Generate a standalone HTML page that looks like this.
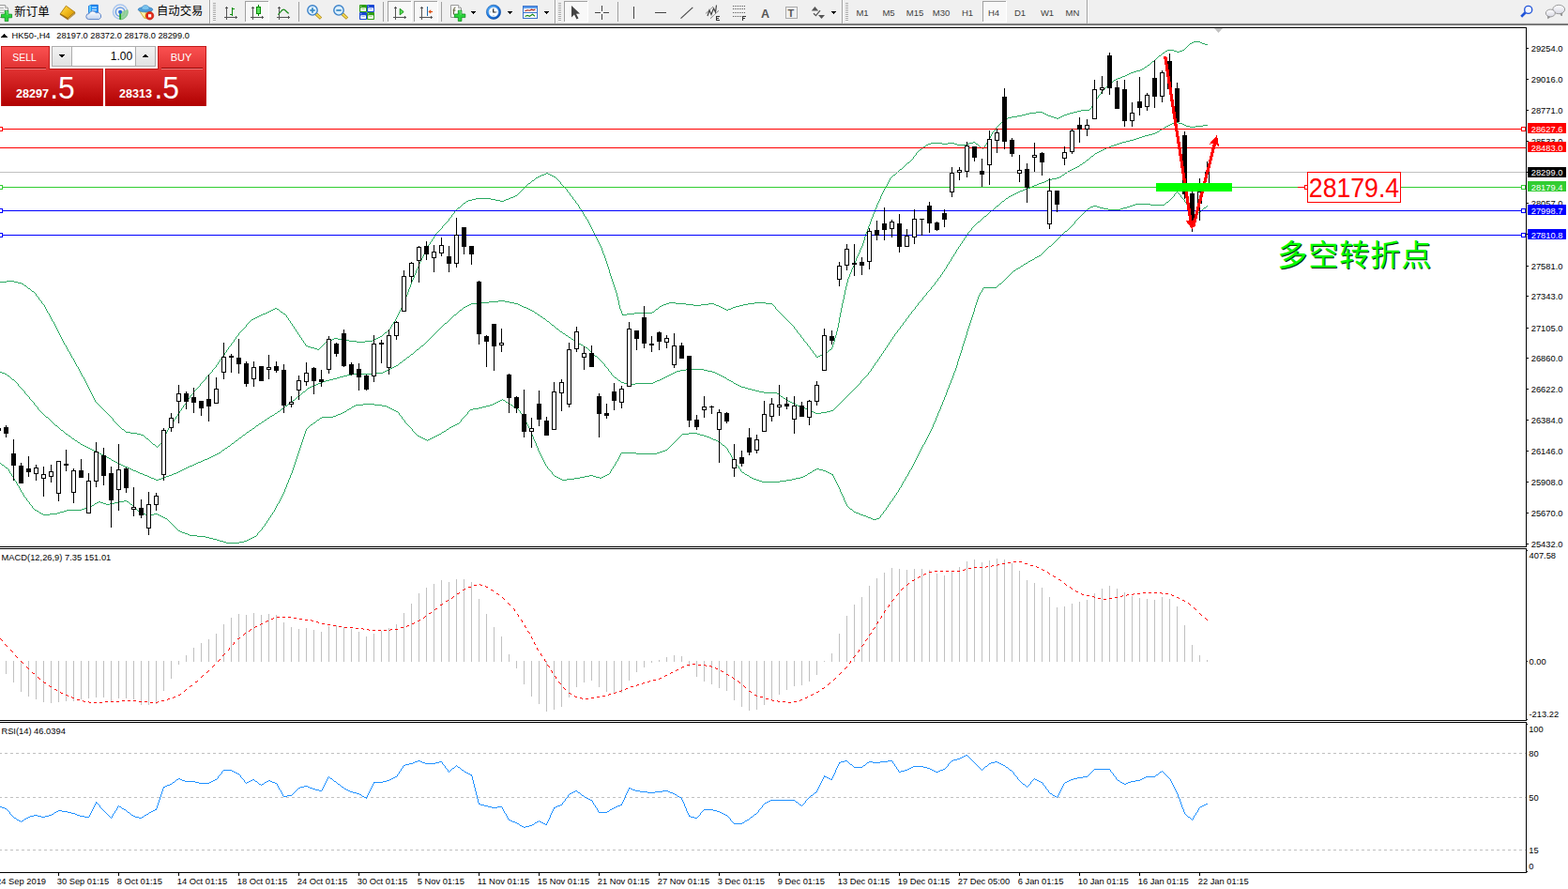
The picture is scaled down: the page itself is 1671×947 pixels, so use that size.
<!DOCTYPE html>
<html><head><meta charset="utf-8"><title>HK50 H4</title>
<style>
html,body{margin:0;padding:0;background:#fff;overflow:hidden}
body{width:1671px;height:947px;position:relative;font-family:"Liberation Sans",sans-serif}
svg{position:absolute;left:0;top:0;display:block}
svg text{font-family:"Liberation Sans",sans-serif}
svg text.cjk{font-family:"Liberation Sans","Noto Sans CJK SC",sans-serif}
.crisp{shape-rendering:crispEdges}
</style></head><body>
<svg width="1671" height="947" viewBox="0 0 1671 947">
<rect width="1671" height="947" fill="#fff"/>
<g class="crisp">
<path d="M1272 44h7v1h-7zM1270 45h2v1h-2zM1279 45h2v1h-2zM1268 46h2v1h-2zM1281 46h3v1h-3zM1284 47h3v1h-3zM1244 53h7v1h-7zM1260 53h2v1h-2zM1242 54h2v1h-2zM1251 54h3v1h-3zM1257 54h3v1h-3zM1254 55h3v1h-3zM1239 56h2v1h-2zM1235 59h2v1h-2zM1228 65h2v1h-2zM1223 69h2v1h-2zM1220 71h2v1h-2zM1217 73h2v1h-2zM1215 74h2v1h-2zM1211 75h4v1h-4zM1208 76h3v1h-3zM1205 77h3v1h-3zM1203 78h2v1h-2zM1201 79h2v1h-2zM1199 80h2v1h-2zM1196 81h3v1h-3zM1194 82h2v1h-2zM1191 83h3v1h-3zM1189 84h2v1h-2zM1187 85h2v1h-2zM1183 88h2v1h-2zM1152 117h9v1h-9zM1148 118h4v1h-4zM1104 119h7v1h-7zM1144 119h4v1h-4zM1097 120h7v1h-7zM1111 120h2v1h-2zM1140 120h4v1h-4zM1093 121h4v1h-4zM1113 121h2v1h-2zM1137 121h3v1h-3zM1089 122h4v1h-4zM1115 122h2v1h-2zM1134 122h3v1h-3zM1084 123h5v1h-5zM1117 123h3v1h-3zM1132 123h2v1h-2zM1078 124h6v1h-6zM1120 124h3v1h-3zM1130 124h2v1h-2zM1074 125h4v1h-4zM1123 125h3v1h-3zM1128 125h2v1h-2zM1072 126h2v1h-2zM1126 126h2v1h-2zM1068 129h2v1h-2zM1037 151h2v1h-2zM992 152h12v1h-12zM1010 152h7v1h-7zM1033 152h4v1h-4zM989 153h3v1h-3zM1004 153h6v1h-6zM1017 153h3v1h-3zM1030 153h3v1h-3zM1040 153h2v1h-2zM987 154h2v1h-2zM1020 154h10v1h-10zM984 156h2v1h-2zM1045 157h2v1h-2zM980 159h2v1h-2zM967 173h2v1h-2zM959 180h2v1h-2zM582 184h2v1h-2zM580 185h2v1h-2zM584 185h2v1h-2zM577 186h3v1h-3zM586 186h2v1h-2zM952 186h2v1h-2zM575 187h2v1h-2zM588 187h2v1h-2zM573 188h2v1h-2zM590 188h2v1h-2zM571 189h2v1h-2zM567 192h2v1h-2zM563 195h2v1h-2zM549 208h2v1h-2zM547 209h2v1h-2zM544 210h3v1h-3zM507 211h16v1h-16zM542 211h2v1h-2zM503 212h4v1h-4zM523 212h5v1h-5zM539 212h3v1h-3zM499 213h4v1h-4zM528 213h5v1h-5zM537 213h2v1h-2zM497 214h2v1h-2zM533 214h4v1h-4zM494 216h2v1h-2zM488 221h2v1h-2zM7 299h8v1h-8zM0 300h7v1h-7zM15 300h4v1h-4zM19 301h4v1h-4zM23 302h2v1h-2zM26 304h2v1h-2zM30 307h2v1h-2zM34 310h2v1h-2zM713 322h7v1h-7zM804 322h12v1h-12zM710 323h3v1h-3zM720 323h11v1h-11zM755 323h6v1h-6zM797 323h7v1h-7zM816 323h7v1h-7zM707 324h3v1h-3zM731 324h8v1h-8zM747 324h8v1h-8zM761 324h2v1h-2zM792 324h5v1h-5zM705 325h2v1h-2zM739 325h8v1h-8zM763 325h3v1h-3zM788 325h4v1h-4zM703 326h2v1h-2zM766 326h2v1h-2zM784 326h4v1h-4zM768 327h2v1h-2zM781 327h3v1h-3zM293 328h2v1h-2zM770 328h2v1h-2zM779 328h2v1h-2zM291 329h2v1h-2zM295 329h2v1h-2zM699 329h2v1h-2zM772 329h2v1h-2zM776 329h3v1h-3zM289 330h2v1h-2zM774 330h2v1h-2zM287 331h2v1h-2zM285 332h2v1h-2zM299 332h2v1h-2zM695 332h2v1h-2zM283 333h2v1h-2zM676 333h19v1h-19zM280 334h3v1h-3zM302 334h2v1h-2zM668 334h8v1h-8zM278 335h2v1h-2zM663 335h5v1h-5zM276 336h2v1h-2zM274 337h2v1h-2zM272 338h2v1h-2zM270 339h2v1h-2zM268 340h2v1h-2zM410 354h2v1h-2zM405 358h2v1h-2zM403 359h2v1h-2zM356 360h4v1h-4zM401 360h2v1h-2zM354 361h2v1h-2zM360 361h6v1h-6zM399 361h2v1h-2zM351 362h3v1h-3zM366 362h6v1h-6zM397 362h2v1h-2zM349 363h2v1h-2zM372 363h8v1h-8zM389 363h8v1h-8zM347 364h2v1h-2zM380 364h9v1h-9zM326 368h2v1h-2zM328 369h3v1h-3zM331 370h4v1h-4zM335 371h3v1h-3zM338 372h2v1h-2zM884 372h2v1h-2zM880 375h2v1h-2zM878 376h2v1h-2zM876 377h2v1h-2zM874 378h2v1h-2zM872 379h2v1h-2zM870 380h2v1h-2zM130 457h2v1h-2zM134 460h5v1h-5zM139 461h7v1h-7zM146 462h4v1h-4zM150 463h3v1h-3zM156 467h2v1h-2zM163 473h2v1h-2zM25 303h1v1h-1zM28 305h1v1h-1zM29 306h1v1h-1zM32 308h1v1h-1zM33 309h1v1h-1zM36 311h1v1h-1zM37 312h1v1h-1zM38 313h1v2h-1zM39 315h1v1h-1zM40 316h1v1h-1zM41 317h1v2h-1zM42 319h1v1h-1zM43 320h1v1h-1zM44 321h1v2h-1zM45 323h1v1h-1zM46 324h1v1h-1zM47 325h1v2h-1zM48 327h1v2h-1zM49 329h1v2h-1zM50 331h1v2h-1zM51 333h1v1h-1zM52 334h1v2h-1zM53 336h1v2h-1zM54 338h1v2h-1zM55 340h1v2h-1zM56 342h1v1h-1zM57 343h1v2h-1zM58 345h1v2h-1zM59 347h1v2h-1zM60 349h1v2h-1zM61 351h1v2h-1zM62 353h1v2h-1zM63 355h1v2h-1zM64 357h1v2h-1zM65 359h1v2h-1zM66 361h1v2h-1zM67 363h1v2h-1zM68 365h1v2h-1zM69 367h1v1h-1zM70 368h1v2h-1zM71 370h1v2h-1zM72 372h1v2h-1zM73 374h1v1h-1zM74 375h1v2h-1zM75 377h1v2h-1zM76 379h1v2h-1zM77 381h1v1h-1zM78 382h1v2h-1zM79 384h1v2h-1zM80 386h1v2h-1zM81 388h1v2h-1zM82 390h1v1h-1zM83 391h1v2h-1zM84 393h1v2h-1zM85 395h1v2h-1zM86 397h1v2h-1zM87 399h1v2h-1zM88 401h1v1h-1zM89 402h1v2h-1zM90 404h1v2h-1zM91 406h1v2h-1zM92 408h1v2h-1zM93 410h1v2h-1zM94 412h1v2h-1zM95 414h1v2h-1zM96 416h1v2h-1zM97 418h1v2h-1zM98 420h1v2h-1zM99 422h1v2h-1zM100 424h1v2h-1zM101 426h1v2h-1zM102 428h1v1h-1zM103 429h1v1h-1zM104 430h1v1h-1zM105 431h1v1h-1zM106 432h1v1h-1zM107 433h1v1h-1zM108 434h1v1h-1zM109 435h1v1h-1zM110 436h1v1h-1zM111 437h1v1h-1zM112 438h1v1h-1zM113 439h1v1h-1zM114 440h1v1h-1zM115 441h1v1h-1zM116 442h1v1h-1zM117 443h1v1h-1zM118 444h1v1h-1zM119 445h1v1h-1zM120 446h1v2h-1zM121 448h1v1h-1zM122 449h1v1h-1zM123 450h1v1h-1zM124 451h1v1h-1zM125 452h1v1h-1zM126 453h1v1h-1zM127 454h1v1h-1zM128 455h1v1h-1zM129 456h1v1h-1zM132 458h1v1h-1zM133 459h1v1h-1zM153 464h1v1h-1zM154 465h1v1h-1zM155 466h1v1h-1zM158 468h1v1h-1zM159 469h1v1h-1zM160 470h1v1h-1zM161 471h1v1h-1zM162 472h1v1h-1zM165 474h1v1h-1zM166 475h1v1h-1zM167 476h1v1h-1zM168 475h1v1h-1zM169 474h1v1h-1zM170 473h1v1h-1zM171 472h1v1h-1zM172 471h1v1h-1zM173 469h1v2h-1zM174 467h1v2h-1zM175 465h1v2h-1zM176 462h1v3h-1zM177 460h1v2h-1zM178 458h1v2h-1zM179 456h1v2h-1zM180 455h1v1h-1zM181 453h1v2h-1zM182 452h1v1h-1zM183 450h1v2h-1zM184 449h1v1h-1zM185 447h1v2h-1zM186 446h1v1h-1zM187 444h1v2h-1zM188 443h1v1h-1zM189 441h1v2h-1zM190 440h1v1h-1zM191 438h1v2h-1zM192 437h1v1h-1zM193 435h1v2h-1zM194 434h1v1h-1zM195 432h1v2h-1zM196 431h1v1h-1zM197 430h1v1h-1zM198 428h1v2h-1zM199 427h1v1h-1zM200 425h1v2h-1zM201 424h1v1h-1zM202 422h1v2h-1zM203 421h1v1h-1zM204 420h1v1h-1zM205 419h1v1h-1zM206 417h1v2h-1zM207 416h1v1h-1zM208 415h1v1h-1zM209 414h1v1h-1zM210 413h1v1h-1zM211 412h1v1h-1zM212 411h1v1h-1zM213 409h1v2h-1zM214 408h1v1h-1zM215 407h1v1h-1zM216 406h1v1h-1zM217 405h1v1h-1zM218 404h1v1h-1zM219 402h1v2h-1zM220 401h1v1h-1zM221 400h1v1h-1zM222 399h1v1h-1zM223 398h1v1h-1zM224 397h1v1h-1zM225 396h1v1h-1zM226 394h1v2h-1zM227 393h1v1h-1zM228 392h1v1h-1zM229 391h1v1h-1zM230 389h1v2h-1zM231 388h1v1h-1zM232 386h1v2h-1zM233 385h1v1h-1zM234 383h1v2h-1zM235 382h1v1h-1zM236 381h1v1h-1zM237 379h1v2h-1zM238 378h1v1h-1zM239 376h1v2h-1zM240 375h1v1h-1zM241 373h1v2h-1zM242 372h1v1h-1zM243 370h1v2h-1zM244 369h1v1h-1zM245 368h1v1h-1zM246 366h1v2h-1zM247 365h1v1h-1zM248 364h1v1h-1zM249 362h1v2h-1zM250 361h1v1h-1zM251 359h1v2h-1zM252 358h1v1h-1zM253 357h1v1h-1zM254 355h1v2h-1zM255 354h1v1h-1zM256 353h1v1h-1zM257 352h1v1h-1zM258 351h1v1h-1zM259 350h1v1h-1zM260 349h1v1h-1zM261 348h1v1h-1zM262 346h1v2h-1zM263 345h1v1h-1zM264 344h1v1h-1zM265 343h1v1h-1zM266 342h1v1h-1zM267 341h1v1h-1zM297 330h1v1h-1zM298 331h1v1h-1zM301 333h1v1h-1zM304 335h1v1h-1zM305 336h1v2h-1zM306 338h1v1h-1zM307 339h1v2h-1zM308 341h1v1h-1zM309 342h1v2h-1zM310 344h1v1h-1zM311 345h1v2h-1zM312 347h1v1h-1zM313 348h1v2h-1zM314 350h1v1h-1zM315 351h1v2h-1zM316 353h1v1h-1zM317 354h1v2h-1zM318 356h1v1h-1zM319 357h1v2h-1zM320 359h1v1h-1zM321 360h1v2h-1zM322 362h1v1h-1zM323 363h1v2h-1zM324 365h1v1h-1zM325 366h1v2h-1zM340 371h1v1h-1zM341 370h1v1h-1zM342 369h1v1h-1zM343 368h1v1h-1zM344 367h1v1h-1zM345 366h1v1h-1zM346 365h1v1h-1zM407 357h1v1h-1zM408 356h1v1h-1zM409 355h1v1h-1zM412 353h1v1h-1zM413 352h1v1h-1zM414 351h1v1h-1zM415 350h1v1h-1zM416 348h1v2h-1zM417 346h1v2h-1zM418 345h1v1h-1zM419 343h1v2h-1zM420 342h1v1h-1zM421 340h1v2h-1zM422 338h1v2h-1zM423 336h1v2h-1zM424 334h1v2h-1zM425 332h1v2h-1zM426 330h1v2h-1zM427 328h1v2h-1zM428 326h1v2h-1zM429 324h1v2h-1zM430 322h1v2h-1zM431 319h1v3h-1zM432 316h1v3h-1zM433 314h1v2h-1zM434 311h1v3h-1zM435 308h1v3h-1zM436 306h1v2h-1zM437 303h1v3h-1zM438 300h1v3h-1zM439 298h1v2h-1zM440 296h1v2h-1zM441 293h1v3h-1zM442 291h1v2h-1zM443 288h1v3h-1zM444 286h1v2h-1zM445 284h1v2h-1zM446 281h1v3h-1zM447 279h1v2h-1zM448 277h1v2h-1zM449 275h1v2h-1zM450 273h1v2h-1zM451 271h1v2h-1zM452 269h1v2h-1zM453 267h1v2h-1zM454 265h1v2h-1zM455 263h1v2h-1zM456 261h1v2h-1zM457 260h1v1h-1zM458 258h1v2h-1zM459 257h1v1h-1zM460 255h1v2h-1zM461 254h1v1h-1zM462 252h1v2h-1zM463 251h1v1h-1zM464 249h1v2h-1zM465 248h1v1h-1zM466 247h1v1h-1zM467 246h1v1h-1zM468 245h1v1h-1zM469 244h1v1h-1zM470 243h1v1h-1zM471 241h1v2h-1zM472 240h1v1h-1zM473 239h1v1h-1zM474 238h1v1h-1zM475 237h1v1h-1zM476 236h1v1h-1zM477 235h1v1h-1zM478 233h1v2h-1zM479 232h1v1h-1zM480 231h1v1h-1zM481 229h1v2h-1zM482 228h1v1h-1zM483 227h1v1h-1zM484 225h1v2h-1zM485 224h1v1h-1zM486 223h1v1h-1zM487 222h1v1h-1zM490 220h1v1h-1zM491 219h1v1h-1zM492 218h1v1h-1zM493 217h1v1h-1zM496 215h1v1h-1zM551 207h1v1h-1zM552 206h1v1h-1zM553 205h1v1h-1zM554 204h1v1h-1zM555 203h1v1h-1zM556 202h1v1h-1zM557 201h1v1h-1zM558 200h1v1h-1zM559 199h1v1h-1zM560 198h1v1h-1zM561 197h1v1h-1zM562 196h1v1h-1zM565 194h1v1h-1zM566 193h1v1h-1zM569 191h1v1h-1zM570 190h1v1h-1zM592 189h1v1h-1zM593 190h1v1h-1zM594 191h1v1h-1zM595 192h1v1h-1zM596 193h1v1h-1zM597 194h1v2h-1zM598 196h1v1h-1zM599 197h1v1h-1zM600 198h1v1h-1zM601 199h1v1h-1zM602 200h1v1h-1zM603 201h1v1h-1zM604 202h1v2h-1zM605 204h1v1h-1zM606 205h1v1h-1zM607 206h1v2h-1zM608 208h1v1h-1zM609 209h1v1h-1zM610 210h1v2h-1zM611 212h1v1h-1zM612 213h1v1h-1zM613 214h1v2h-1zM614 216h1v1h-1zM615 217h1v1h-1zM616 218h1v2h-1zM617 220h1v2h-1zM618 222h1v1h-1zM619 223h1v2h-1zM620 225h1v1h-1zM621 226h1v2h-1zM622 228h1v2h-1zM623 230h1v1h-1zM624 231h1v2h-1zM625 233h1v1h-1zM626 234h1v2h-1zM627 236h1v2h-1zM628 238h1v2h-1zM629 240h1v2h-1zM630 242h1v2h-1zM631 244h1v2h-1zM632 246h1v2h-1zM633 248h1v2h-1zM634 250h1v2h-1zM635 252h1v2h-1zM636 254h1v2h-1zM637 256h1v2h-1zM638 258h1v2h-1zM639 260h1v2h-1zM640 262h1v2h-1zM641 264h1v3h-1zM642 267h1v3h-1zM643 270h1v2h-1zM644 272h1v3h-1zM645 275h1v3h-1zM646 278h1v3h-1zM647 281h1v3h-1zM648 284h1v3h-1zM649 287h1v4h-1zM650 291h1v3h-1zM651 294h1v3h-1zM652 297h1v3h-1zM653 300h1v3h-1zM654 303h1v3h-1zM655 306h1v3h-1zM656 309h1v3h-1zM657 312h1v4h-1zM658 316h1v4h-1zM659 320h1v5h-1zM660 325h1v4h-1zM661 329h1v2h-1zM662 331h1v3h-1zM663 334h1v1h-1zM697 331h1v1h-1zM698 330h1v1h-1zM701 328h1v1h-1zM702 327h1v1h-1zM823 324h1v1h-1zM824 325h1v1h-1zM825 326h1v1h-1zM826 327h1v2h-1zM827 329h1v1h-1zM828 330h1v1h-1zM829 331h1v1h-1zM830 332h1v1h-1zM831 333h1v1h-1zM832 334h1v1h-1zM833 335h1v1h-1zM834 336h1v1h-1zM835 337h1v1h-1zM836 338h1v1h-1zM837 339h1v1h-1zM838 340h1v1h-1zM839 341h1v1h-1zM840 342h1v1h-1zM841 343h1v1h-1zM842 344h1v1h-1zM843 345h1v1h-1zM844 346h1v1h-1zM845 347h1v1h-1zM846 348h1v2h-1zM847 350h1v1h-1zM848 351h1v1h-1zM849 352h1v2h-1zM850 354h1v1h-1zM851 355h1v1h-1zM852 356h1v1h-1zM853 357h1v2h-1zM854 359h1v1h-1zM855 360h1v1h-1zM856 361h1v2h-1zM857 363h1v1h-1zM858 364h1v1h-1zM859 365h1v1h-1zM860 366h1v2h-1zM861 368h1v1h-1zM862 369h1v1h-1zM863 370h1v2h-1zM864 372h1v1h-1zM865 373h1v1h-1zM866 374h1v2h-1zM867 376h1v1h-1zM868 377h1v1h-1zM869 378h1v2h-1zM882 374h1v1h-1zM883 373h1v1h-1zM886 370h1v2h-1zM887 367h1v3h-1zM888 364h1v3h-1zM889 360h1v4h-1zM890 357h1v3h-1zM891 353h1v4h-1zM892 349h1v4h-1zM893 344h1v5h-1zM894 338h1v6h-1zM895 333h1v5h-1zM896 328h1v5h-1zM897 323h1v5h-1zM898 319h1v4h-1zM899 314h1v5h-1zM900 309h1v5h-1zM901 305h1v4h-1zM902 301h1v4h-1zM903 297h1v4h-1zM904 295h1v2h-1zM905 292h1v3h-1zM906 290h1v2h-1zM907 287h1v3h-1zM908 285h1v2h-1zM909 283h1v2h-1zM910 280h1v3h-1zM911 278h1v2h-1zM912 275h1v3h-1zM913 273h1v2h-1zM914 271h1v2h-1zM915 269h1v2h-1zM916 266h1v3h-1zM917 264h1v2h-1zM918 262h1v2h-1zM919 259h1v3h-1zM920 256h1v3h-1zM921 252h1v4h-1zM922 249h1v3h-1zM923 247h1v2h-1zM924 244h1v3h-1zM925 241h1v3h-1zM926 239h1v2h-1zM927 236h1v3h-1zM928 233h1v3h-1zM929 231h1v2h-1zM930 228h1v3h-1zM931 226h1v2h-1zM932 223h1v3h-1zM933 221h1v2h-1zM934 218h1v3h-1zM935 216h1v2h-1zM936 214h1v2h-1zM937 212h1v2h-1zM938 209h1v3h-1zM939 207h1v2h-1zM940 205h1v2h-1zM941 203h1v2h-1zM942 201h1v2h-1zM943 199h1v2h-1zM944 198h1v1h-1zM945 196h1v2h-1zM946 194h1v2h-1zM947 192h1v2h-1zM948 190h1v2h-1zM949 189h1v1h-1zM950 188h1v1h-1zM951 187h1v1h-1zM954 185h1v1h-1zM955 184h1v1h-1zM956 183h1v1h-1zM957 182h1v1h-1zM958 181h1v1h-1zM961 179h1v1h-1zM962 178h1v1h-1zM963 177h1v1h-1zM964 176h1v1h-1zM965 175h1v1h-1zM966 174h1v1h-1zM969 172h1v1h-1zM970 171h1v1h-1zM971 170h1v1h-1zM972 169h1v1h-1zM973 167h1v2h-1zM974 166h1v1h-1zM975 165h1v1h-1zM976 163h1v2h-1zM977 162h1v1h-1zM978 161h1v1h-1zM979 160h1v1h-1zM982 158h1v1h-1zM983 157h1v1h-1zM986 155h1v1h-1zM1039 152h1v1h-1zM1042 154h1v1h-1zM1043 155h1v1h-1zM1044 156h1v1h-1zM1047 158h1v1h-1zM1048 157h1v1h-1zM1049 155h1v2h-1zM1050 154h1v1h-1zM1051 152h1v2h-1zM1052 150h1v2h-1zM1053 148h1v2h-1zM1054 147h1v1h-1zM1055 145h1v2h-1zM1056 143h1v2h-1zM1057 141h1v2h-1zM1058 140h1v1h-1zM1059 139h1v1h-1zM1060 137h1v2h-1zM1061 136h1v1h-1zM1062 135h1v1h-1zM1063 134h1v1h-1zM1064 133h1v1h-1zM1065 132h1v1h-1zM1066 131h1v1h-1zM1067 130h1v1h-1zM1070 128h1v1h-1zM1071 127h1v1h-1zM1161 116h1v1h-1zM1162 115h1v1h-1zM1163 113h1v2h-1zM1164 112h1v1h-1zM1165 111h1v1h-1zM1166 109h1v2h-1zM1167 107h1v2h-1zM1168 105h1v2h-1zM1169 104h1v1h-1zM1170 102h1v2h-1zM1171 101h1v1h-1zM1172 100h1v1h-1zM1173 98h1v2h-1zM1174 97h1v1h-1zM1175 96h1v1h-1zM1176 95h1v1h-1zM1177 94h1v1h-1zM1178 93h1v1h-1zM1179 92h1v1h-1zM1180 91h1v1h-1zM1181 90h1v1h-1zM1182 89h1v1h-1zM1185 87h1v1h-1zM1186 86h1v1h-1zM1219 72h1v1h-1zM1222 70h1v1h-1zM1225 68h1v1h-1zM1226 67h1v1h-1zM1227 66h1v1h-1zM1230 64h1v1h-1zM1231 63h1v1h-1zM1232 62h1v1h-1zM1233 61h1v1h-1zM1234 60h1v1h-1zM1237 58h1v1h-1zM1238 57h1v1h-1zM1241 55h1v1h-1zM1262 52h1v1h-1zM1263 51h1v1h-1zM1264 50h1v1h-1zM1265 49h1v1h-1zM1266 48h1v1h-1zM1267 47h1v1h-1z" fill="#28a860"/>
<path d="M1252 130h4v1h-4zM1249 131h3v1h-3zM1256 131h4v1h-4zM1247 132h2v1h-2zM1260 132h2v1h-2zM1245 133h2v1h-2zM1262 133h2v1h-2zM1282 133h5v1h-5zM1243 134h2v1h-2zM1264 134h4v1h-4zM1274 134h8v1h-8zM1241 135h2v1h-2zM1268 135h6v1h-6zM1238 137h2v1h-2zM1236 138h2v1h-2zM1233 140h2v1h-2zM1231 141h2v1h-2zM1228 142h3v1h-3zM1224 143h4v1h-4zM1220 144h4v1h-4zM1217 145h3v1h-3zM1214 146h3v1h-3zM1211 147h3v1h-3zM1208 148h3v1h-3zM1204 149h4v1h-4zM1200 150h4v1h-4zM1196 151h4v1h-4zM1193 152h3v1h-3zM1190 153h3v1h-3zM1187 154h3v1h-3zM1184 155h3v1h-3zM1182 156h2v1h-2zM1179 157h3v1h-3zM1177 158h2v1h-2zM1175 159h2v1h-2zM1173 160h2v1h-2zM1171 161h2v1h-2zM1169 162h2v1h-2zM1167 163h2v1h-2zM1163 166h2v1h-2zM1158 170h2v1h-2zM1154 173h2v1h-2zM1151 175h2v1h-2zM1148 177h2v1h-2zM1146 178h2v1h-2zM1144 179h2v1h-2zM1142 180h2v1h-2zM1140 181h2v1h-2zM1138 182h2v1h-2zM1135 184h2v1h-2zM1132 186h2v1h-2zM1129 188h2v1h-2zM1126 189h3v1h-3zM1121 190h5v1h-5zM1117 191h4v1h-4zM1115 192h2v1h-2zM1113 193h2v1h-2zM1110 194h3v1h-3zM1107 195h3v1h-3zM1105 196h2v1h-2zM1102 197h3v1h-3zM1100 198h2v1h-2zM1098 199h2v1h-2zM1095 200h3v1h-3zM1092 201h3v1h-3zM1090 202h2v1h-2zM1087 203h3v1h-3zM1085 204h2v1h-2zM1083 205h2v1h-2zM1081 206h2v1h-2zM1079 207h2v1h-2zM1077 208h2v1h-2zM1075 209h2v1h-2zM1072 211h2v1h-2zM1068 214h2v1h-2zM1062 219h2v1h-2zM1056 224h2v1h-2zM1049 230h2v1h-2zM1042 236h2v1h-2zM531 320h7v1h-7zM521 321h10v1h-10zM538 321h5v1h-5zM510 322h11v1h-11zM543 322h5v1h-5zM502 323h8v1h-8zM548 323h4v1h-4zM500 324h2v1h-2zM552 324h2v1h-2zM498 325h2v1h-2zM554 325h2v1h-2zM496 326h2v1h-2zM556 326h2v1h-2zM494 327h2v1h-2zM558 327h3v1h-3zM561 328h2v1h-2zM563 329h2v1h-2zM490 330h2v1h-2zM565 330h2v1h-2zM567 331h2v1h-2zM570 333h2v1h-2zM484 335h2v1h-2zM573 335h2v1h-2zM576 337h2v1h-2zM579 339h2v1h-2zM583 342h2v1h-2zM474 344h2v1h-2zM588 346h2v1h-2zM593 350h2v1h-2zM597 353h2v1h-2zM600 355h2v1h-2zM603 357h2v1h-2zM606 359h2v1h-2zM609 361h2v1h-2zM612 363h2v1h-2zM614 364h2v1h-2zM617 366h2v1h-2zM619 367h2v1h-2zM449 368h2v1h-2zM622 369h2v1h-2zM624 370h2v1h-2zM444 372h2v1h-2zM438 377h2v1h-2zM634 379h2v1h-2zM434 380h2v1h-2zM430 383h2v1h-2zM426 386h2v1h-2zM422 389h2v1h-2zM420 390h2v1h-2zM418 391h2v1h-2zM416 392h2v1h-2zM414 393h2v1h-2zM731 393h19v1h-19zM412 394h2v1h-2zM725 394h6v1h-6zM750 394h4v1h-4zM410 395h2v1h-2zM721 395h4v1h-4zM754 395h5v1h-5zM0 396h2v1h-2zM408 396h2v1h-2zM719 396h2v1h-2zM759 396h3v1h-3zM2 397h3v1h-3zM399 397h9v1h-9zM717 397h2v1h-2zM762 397h2v1h-2zM5 398h2v1h-2zM374 398h25v1h-25zM715 398h2v1h-2zM764 398h2v1h-2zM370 399h4v1h-4zM713 399h2v1h-2zM766 399h2v1h-2zM8 400h2v1h-2zM366 400h4v1h-4zM711 400h2v1h-2zM768 400h2v1h-2zM362 401h4v1h-4zM709 401h2v1h-2zM770 401h2v1h-2zM359 402h3v1h-3zM655 402h2v1h-2zM707 402h2v1h-2zM772 402h2v1h-2zM355 403h4v1h-4zM705 403h2v1h-2zM13 404h2v1h-2zM351 404h4v1h-4zM703 404h2v1h-2zM775 404h2v1h-2zM347 405h4v1h-4zM659 405h2v1h-2zM700 405h3v1h-3zM777 405h2v1h-2zM344 406h3v1h-3zM698 406h2v1h-2zM779 406h2v1h-2zM342 407h2v1h-2zM662 407h3v1h-3zM696 407h2v1h-2zM339 408h3v1h-3zM665 408h5v1h-5zM677 408h19v1h-19zM782 408h2v1h-2zM337 409h2v1h-2zM670 409h7v1h-7zM784 409h2v1h-2zM334 410h3v1h-3zM786 410h2v1h-2zM332 411h2v1h-2zM788 411h2v1h-2zM330 412h2v1h-2zM790 412h4v1h-4zM328 413h2v1h-2zM794 413h3v1h-3zM797 414h4v1h-4zM801 415h4v1h-4zM805 416h4v1h-4zM323 417h2v1h-2zM809 417h5v1h-5zM814 418h14v1h-14zM828 419h2v1h-2zM317 422h2v1h-2zM832 422h2v1h-2zM835 424h2v1h-2zM312 426h2v1h-2zM838 426h2v1h-2zM840 427h2v1h-2zM842 428h2v1h-2zM308 429h2v1h-2zM844 429h2v1h-2zM846 430h2v1h-2zM848 431h2v1h-2zM304 432h2v1h-2zM850 432h3v1h-3zM853 433h3v1h-3zM856 434h2v1h-2zM300 435h2v1h-2zM858 435h3v1h-3zM861 436h2v1h-2zM863 437h2v1h-2zM885 437h3v1h-3zM296 438h2v1h-2zM865 438h2v1h-2zM881 438h4v1h-4zM867 439h2v1h-2zM875 439h6v1h-6zM293 440h2v1h-2zM869 440h6v1h-6zM290 442h2v1h-2zM288 443h2v1h-2zM49 444h2v1h-2zM285 445h2v1h-2zM282 447h2v1h-2zM279 449h2v1h-2zM276 451h2v1h-2zM59 453h2v1h-2zM273 453h2v1h-2zM269 456h2v1h-2zM65 458h2v1h-2zM266 458h2v1h-2zM263 460h2v1h-2zM70 462h2v1h-2zM259 463h2v1h-2zM73 464h2v1h-2zM255 466h2v1h-2zM77 467h2v1h-2zM80 469h2v1h-2zM251 469h2v1h-2zM83 471h2v1h-2zM247 472h2v1h-2zM86 473h2v1h-2zM88 474h2v1h-2zM90 475h2v1h-2zM243 475h2v1h-2zM92 476h2v1h-2zM94 477h2v1h-2zM240 477h2v1h-2zM96 478h2v1h-2zM98 479h2v1h-2zM237 479h2v1h-2zM100 480h2v1h-2zM102 481h2v1h-2zM104 482h2v1h-2zM233 482h2v1h-2zM106 483h2v1h-2zM231 483h2v1h-2zM108 484h2v1h-2zM229 484h2v1h-2zM110 485h2v1h-2zM227 485h2v1h-2zM112 486h2v1h-2zM225 486h2v1h-2zM114 487h2v1h-2zM223 487h2v1h-2zM116 488h2v1h-2zM221 488h2v1h-2zM218 489h3v1h-3zM119 490h2v1h-2zM216 490h2v1h-2zM121 491h2v1h-2zM214 491h2v1h-2zM123 492h2v1h-2zM211 492h3v1h-3zM125 493h2v1h-2zM209 493h2v1h-2zM127 494h2v1h-2zM207 494h2v1h-2zM129 495h2v1h-2zM205 495h2v1h-2zM131 496h2v1h-2zM202 496h3v1h-3zM133 497h3v1h-3zM200 497h2v1h-2zM136 498h2v1h-2zM198 498h2v1h-2zM138 499h2v1h-2zM196 499h2v1h-2zM140 500h2v1h-2zM194 500h2v1h-2zM142 501h3v1h-3zM192 501h2v1h-2zM145 502h2v1h-2zM190 502h2v1h-2zM147 503h2v1h-2zM188 503h2v1h-2zM149 504h3v1h-3zM185 504h3v1h-3zM152 505h2v1h-2zM183 505h2v1h-2zM154 506h3v1h-3zM180 506h3v1h-3zM157 507h2v1h-2zM177 507h3v1h-3zM159 508h2v1h-2zM175 508h2v1h-2zM161 509h3v1h-3zM172 509h3v1h-3zM164 510h2v1h-2zM169 510h3v1h-3zM166 511h3v1h-3zM7 399h1v1h-1zM10 401h1v1h-1zM11 402h1v1h-1zM12 403h1v1h-1zM15 405h1v1h-1zM16 406h1v1h-1zM17 407h1v1h-1zM18 408h1v1h-1zM19 409h1v2h-1zM20 411h1v1h-1zM21 412h1v1h-1zM22 413h1v1h-1zM23 414h1v1h-1zM24 415h1v1h-1zM25 416h1v1h-1zM26 417h1v2h-1zM27 419h1v1h-1zM28 420h1v1h-1zM29 421h1v1h-1zM30 422h1v1h-1zM31 423h1v2h-1zM32 425h1v1h-1zM33 426h1v1h-1zM34 427h1v1h-1zM35 428h1v1h-1zM36 429h1v2h-1zM37 431h1v1h-1zM38 432h1v1h-1zM39 433h1v1h-1zM40 434h1v2h-1zM41 436h1v1h-1zM42 437h1v1h-1zM43 438h1v1h-1zM44 439h1v1h-1zM45 440h1v1h-1zM46 441h1v1h-1zM47 442h1v1h-1zM48 443h1v1h-1zM51 445h1v1h-1zM52 446h1v1h-1zM53 447h1v1h-1zM54 448h1v1h-1zM55 449h1v1h-1zM56 450h1v1h-1zM57 451h1v1h-1zM58 452h1v1h-1zM61 454h1v1h-1zM62 455h1v1h-1zM63 456h1v1h-1zM64 457h1v1h-1zM67 459h1v1h-1zM68 460h1v1h-1zM69 461h1v1h-1zM72 463h1v1h-1zM75 465h1v1h-1zM76 466h1v1h-1zM79 468h1v1h-1zM82 470h1v1h-1zM85 472h1v1h-1zM118 489h1v1h-1zM235 481h1v1h-1zM236 480h1v1h-1zM239 478h1v1h-1zM242 476h1v1h-1zM245 474h1v1h-1zM246 473h1v1h-1zM249 471h1v1h-1zM250 470h1v1h-1zM253 468h1v1h-1zM254 467h1v1h-1zM257 465h1v1h-1zM258 464h1v1h-1zM261 462h1v1h-1zM262 461h1v1h-1zM265 459h1v1h-1zM268 457h1v1h-1zM271 455h1v1h-1zM272 454h1v1h-1zM275 452h1v1h-1zM278 450h1v1h-1zM281 448h1v1h-1zM284 446h1v1h-1zM287 444h1v1h-1zM292 441h1v1h-1zM295 439h1v1h-1zM298 437h1v1h-1zM299 436h1v1h-1zM302 434h1v1h-1zM303 433h1v1h-1zM306 431h1v1h-1zM307 430h1v1h-1zM310 428h1v1h-1zM311 427h1v1h-1zM314 425h1v1h-1zM315 424h1v1h-1zM316 423h1v1h-1zM319 421h1v1h-1zM320 420h1v1h-1zM321 419h1v1h-1zM322 418h1v1h-1zM325 416h1v1h-1zM326 415h1v1h-1zM327 414h1v1h-1zM424 388h1v1h-1zM425 387h1v1h-1zM428 385h1v1h-1zM429 384h1v1h-1zM432 382h1v1h-1zM433 381h1v1h-1zM436 379h1v1h-1zM437 378h1v1h-1zM440 376h1v1h-1zM441 375h1v1h-1zM442 374h1v1h-1zM443 373h1v1h-1zM446 371h1v1h-1zM447 370h1v1h-1zM448 369h1v1h-1zM451 367h1v1h-1zM452 366h1v1h-1zM453 365h1v1h-1zM454 364h1v1h-1zM455 363h1v1h-1zM456 362h1v1h-1zM457 361h1v1h-1zM458 360h1v1h-1zM459 359h1v1h-1zM460 358h1v1h-1zM461 357h1v1h-1zM462 356h1v1h-1zM463 355h1v1h-1zM464 354h1v1h-1zM465 353h1v1h-1zM466 352h1v1h-1zM467 351h1v1h-1zM468 350h1v1h-1zM469 349h1v1h-1zM470 348h1v1h-1zM471 347h1v1h-1zM472 346h1v1h-1zM473 345h1v1h-1zM476 343h1v1h-1zM477 342h1v1h-1zM478 341h1v1h-1zM479 340h1v1h-1zM480 339h1v1h-1zM481 338h1v1h-1zM482 337h1v1h-1zM483 336h1v1h-1zM486 334h1v1h-1zM487 333h1v1h-1zM488 332h1v1h-1zM489 331h1v1h-1zM492 329h1v1h-1zM493 328h1v1h-1zM569 332h1v1h-1zM572 334h1v1h-1zM575 336h1v1h-1zM578 338h1v1h-1zM581 340h1v1h-1zM582 341h1v1h-1zM585 343h1v1h-1zM586 344h1v1h-1zM587 345h1v1h-1zM590 347h1v1h-1zM591 348h1v1h-1zM592 349h1v1h-1zM595 351h1v1h-1zM596 352h1v1h-1zM599 354h1v1h-1zM602 356h1v1h-1zM605 358h1v1h-1zM608 360h1v1h-1zM611 362h1v1h-1zM616 365h1v1h-1zM621 368h1v1h-1zM626 371h1v1h-1zM627 372h1v1h-1zM628 373h1v1h-1zM629 374h1v1h-1zM630 375h1v1h-1zM631 376h1v1h-1zM632 377h1v1h-1zM633 378h1v1h-1zM636 380h1v1h-1zM637 381h1v1h-1zM638 382h1v1h-1zM639 383h1v1h-1zM640 384h1v1h-1zM641 385h1v1h-1zM642 386h1v1h-1zM643 387h1v1h-1zM644 388h1v2h-1zM645 390h1v1h-1zM646 391h1v1h-1zM647 392h1v1h-1zM648 393h1v2h-1zM649 395h1v1h-1zM650 396h1v1h-1zM651 397h1v2h-1zM652 399h1v1h-1zM653 400h1v1h-1zM654 401h1v1h-1zM657 403h1v1h-1zM658 404h1v1h-1zM661 406h1v1h-1zM774 403h1v1h-1zM781 407h1v1h-1zM830 420h1v1h-1zM831 421h1v1h-1zM834 423h1v1h-1zM837 425h1v1h-1zM888 436h1v1h-1zM889 435h1v1h-1zM890 434h1v1h-1zM891 433h1v1h-1zM892 432h1v1h-1zM893 431h1v1h-1zM894 430h1v1h-1zM895 429h1v1h-1zM896 428h1v1h-1zM897 427h1v1h-1zM898 426h1v1h-1zM899 425h1v1h-1zM900 424h1v1h-1zM901 423h1v1h-1zM902 422h1v1h-1zM903 421h1v1h-1zM904 420h1v1h-1zM905 419h1v1h-1zM906 418h1v1h-1zM907 417h1v1h-1zM908 416h1v1h-1zM909 415h1v1h-1zM910 414h1v1h-1zM911 413h1v1h-1zM912 412h1v1h-1zM913 411h1v1h-1zM914 410h1v1h-1zM915 409h1v1h-1zM916 408h1v1h-1zM917 406h1v2h-1zM918 405h1v1h-1zM919 404h1v1h-1zM920 403h1v1h-1zM921 402h1v1h-1zM922 401h1v1h-1zM923 400h1v1h-1zM924 399h1v1h-1zM925 397h1v2h-1zM926 396h1v1h-1zM927 395h1v1h-1zM928 393h1v2h-1zM929 392h1v1h-1zM930 390h1v2h-1zM931 389h1v1h-1zM932 387h1v2h-1zM933 386h1v1h-1zM934 385h1v1h-1zM935 383h1v2h-1zM936 382h1v1h-1zM937 380h1v2h-1zM938 379h1v1h-1zM939 377h1v2h-1zM940 376h1v1h-1zM941 374h1v2h-1zM942 373h1v1h-1zM943 371h1v2h-1zM944 370h1v1h-1zM945 368h1v2h-1zM946 367h1v1h-1zM947 365h1v2h-1zM948 364h1v1h-1zM949 362h1v2h-1zM950 361h1v1h-1zM951 359h1v2h-1zM952 358h1v1h-1zM953 356h1v2h-1zM954 355h1v1h-1zM955 354h1v1h-1zM956 352h1v2h-1zM957 351h1v1h-1zM958 350h1v1h-1zM959 348h1v2h-1zM960 347h1v1h-1zM961 346h1v1h-1zM962 344h1v2h-1zM963 343h1v1h-1zM964 342h1v1h-1zM965 340h1v2h-1zM966 339h1v1h-1zM967 338h1v1h-1zM968 336h1v2h-1zM969 335h1v1h-1zM970 334h1v1h-1zM971 332h1v2h-1zM972 331h1v1h-1zM973 330h1v1h-1zM974 329h1v1h-1zM975 327h1v2h-1zM976 326h1v1h-1zM977 325h1v1h-1zM978 323h1v2h-1zM979 322h1v1h-1zM980 321h1v1h-1zM981 320h1v1h-1zM982 319h1v1h-1zM983 317h1v2h-1zM984 316h1v1h-1zM985 315h1v1h-1zM986 314h1v1h-1zM987 312h1v2h-1zM988 311h1v1h-1zM989 310h1v1h-1zM990 309h1v1h-1zM991 308h1v1h-1zM992 306h1v2h-1zM993 305h1v1h-1zM994 304h1v1h-1zM995 303h1v1h-1zM996 301h1v2h-1zM997 300h1v1h-1zM998 299h1v1h-1zM999 297h1v2h-1zM1000 296h1v1h-1zM1001 295h1v1h-1zM1002 293h1v2h-1zM1003 292h1v1h-1zM1004 290h1v2h-1zM1005 289h1v1h-1zM1006 287h1v2h-1zM1007 286h1v1h-1zM1008 284h1v2h-1zM1009 282h1v2h-1zM1010 281h1v1h-1zM1011 279h1v2h-1zM1012 278h1v1h-1zM1013 276h1v2h-1zM1014 274h1v2h-1zM1015 273h1v1h-1zM1016 271h1v2h-1zM1017 270h1v1h-1zM1018 268h1v2h-1zM1019 266h1v2h-1zM1020 265h1v1h-1zM1021 263h1v2h-1zM1022 262h1v1h-1zM1023 260h1v2h-1zM1024 259h1v1h-1zM1025 257h1v2h-1zM1026 256h1v1h-1zM1027 254h1v2h-1zM1028 253h1v1h-1zM1029 251h1v2h-1zM1030 250h1v1h-1zM1031 248h1v2h-1zM1032 247h1v1h-1zM1033 246h1v1h-1zM1034 245h1v1h-1zM1035 243h1v2h-1zM1036 242h1v1h-1zM1037 241h1v1h-1zM1038 240h1v1h-1zM1039 239h1v1h-1zM1040 238h1v1h-1zM1041 237h1v1h-1zM1044 235h1v1h-1zM1045 234h1v1h-1zM1046 233h1v1h-1zM1047 232h1v1h-1zM1048 231h1v1h-1zM1051 229h1v1h-1zM1052 228h1v1h-1zM1053 227h1v1h-1zM1054 226h1v1h-1zM1055 225h1v1h-1zM1058 223h1v1h-1zM1059 222h1v1h-1zM1060 221h1v1h-1zM1061 220h1v1h-1zM1064 218h1v1h-1zM1065 217h1v1h-1zM1066 216h1v1h-1zM1067 215h1v1h-1zM1070 213h1v1h-1zM1071 212h1v1h-1zM1074 210h1v1h-1zM1131 187h1v1h-1zM1134 185h1v1h-1zM1137 183h1v1h-1zM1150 176h1v1h-1zM1153 174h1v1h-1zM1156 172h1v1h-1zM1157 171h1v1h-1zM1160 169h1v1h-1zM1161 168h1v1h-1zM1162 167h1v1h-1zM1165 165h1v1h-1zM1166 164h1v1h-1zM1235 139h1v1h-1zM1240 136h1v1h-1z" fill="#28a860"/>
<path d="M1243 215h2v1h-2zM1210 217h16v1h-16zM1207 218h3v1h-3zM1226 218h15v1h-15zM1165 219h4v1h-4zM1204 219h3v1h-3zM1162 220h3v1h-3zM1169 220h3v1h-3zM1201 220h3v1h-3zM1172 221h4v1h-4zM1197 221h4v1h-4zM1283 221h2v1h-2zM1159 222h2v1h-2zM1176 222h5v1h-5zM1194 222h3v1h-3zM1181 223h13v1h-13zM1278 225h2v1h-2zM1274 228h2v1h-2zM1135 246h2v1h-2zM1118 262h2v1h-2zM1107 272h2v1h-2zM1105 273h2v1h-2zM1103 274h2v1h-2zM1100 276h2v1h-2zM1098 277h2v1h-2zM1096 278h2v1h-2zM1093 280h2v1h-2zM1091 281h2v1h-2zM1088 283h2v1h-2zM1085 285h2v1h-2zM1083 286h2v1h-2zM1080 288h2v1h-2zM1065 302h2v1h-2zM1048 306h14v1h-14zM533 426h2v1h-2zM536 426h2v1h-2zM531 427h2v1h-2zM529 428h2v1h-2zM539 428h2v1h-2zM527 429h2v1h-2zM541 429h2v1h-2zM387 430h12v1h-12zM525 430h2v1h-2zM379 431h8v1h-8zM399 431h8v1h-8zM522 431h3v1h-3zM544 431h2v1h-2zM377 432h2v1h-2zM407 432h5v1h-5zM518 432h4v1h-4zM375 433h2v1h-2zM412 433h2v1h-2zM514 433h4v1h-4zM547 433h2v1h-2zM414 434h2v1h-2zM510 434h4v1h-4zM372 435h2v1h-2zM416 435h2v1h-2zM504 435h6v1h-6zM550 435h2v1h-2zM370 436h2v1h-2zM418 436h2v1h-2zM501 436h3v1h-3zM420 437h2v1h-2zM367 438h2v1h-2zM422 438h2v1h-2zM365 439h2v1h-2zM363 440h2v1h-2zM360 441h3v1h-3zM358 442h2v1h-2zM355 443h3v1h-3zM343 444h12v1h-12zM341 445h2v1h-2zM338 447h2v1h-2zM334 450h2v1h-2zM487 451h2v1h-2zM331 452h2v1h-2zM485 452h2v1h-2zM483 453h2v1h-2zM481 454h2v1h-2zM479 455h2v1h-2zM476 457h2v1h-2zM473 459h2v1h-2zM471 460h2v1h-2zM734 461h9v1h-9zM468 462h2v1h-2zM727 462h7v1h-7zM743 462h3v1h-3zM466 463h2v1h-2zM746 463h4v1h-4zM445 464h2v1h-2zM464 464h2v1h-2zM750 464h3v1h-3zM447 465h2v1h-2zM462 465h2v1h-2zM753 465h3v1h-3zM449 466h2v1h-2zM460 466h2v1h-2zM756 466h2v1h-2zM451 467h2v1h-2zM458 467h2v1h-2zM758 467h2v1h-2zM453 468h2v1h-2zM456 468h2v1h-2zM760 468h3v1h-3zM763 469h2v1h-2zM765 470h2v1h-2zM770 474h2v1h-2zM709 479h2v1h-2zM706 480h3v1h-3zM703 481h3v1h-3zM662 482h16v1h-16zM700 482h3v1h-3zM678 483h22v1h-22zM2 495h2v1h-2zM6 498h2v1h-2zM870 499h3v1h-3zM868 500h2v1h-2zM873 500h4v1h-4zM866 501h2v1h-2zM877 501h3v1h-3zM880 502h2v1h-2zM791 503h2v1h-2zM863 503h2v1h-2zM882 503h2v1h-2zM861 504h2v1h-2zM884 504h2v1h-2zM647 505h2v1h-2zM794 505h2v1h-2zM886 505h2v1h-2zM628 506h4v1h-4zM645 506h2v1h-2zM796 506h2v1h-2zM858 506h2v1h-2zM591 507h2v1h-2zM623 507h5v1h-5zM632 507h3v1h-3zM643 507h2v1h-2zM856 507h2v1h-2zM593 508h2v1h-2zM618 508h5v1h-5zM635 508h4v1h-4zM641 508h2v1h-2zM799 508h2v1h-2zM853 508h3v1h-3zM595 509h2v1h-2zM612 509h6v1h-6zM639 509h2v1h-2zM801 509h2v1h-2zM848 509h5v1h-5zM597 510h2v1h-2zM604 510h8v1h-8zM803 510h3v1h-3zM844 510h4v1h-4zM599 511h5v1h-5zM806 511h3v1h-3zM838 511h6v1h-6zM809 512h3v1h-3zM831 512h7v1h-7zM812 513h19v1h-19zM132 533h3v1h-3zM105 534h2v1h-2zM127 534h5v1h-5zM135 534h2v1h-2zM103 535h2v1h-2zM107 535h3v1h-3zM122 535h5v1h-5zM101 536h2v1h-2zM110 536h3v1h-3zM117 536h5v1h-5zM113 537h4v1h-4zM139 537h2v1h-2zM98 538h2v1h-2zM96 539h2v1h-2zM94 540h2v1h-2zM90 541h4v1h-4zM87 542h3v1h-3zM906 542h2v1h-2zM37 543h2v1h-2zM71 543h16v1h-16zM39 544h2v1h-2zM68 544h3v1h-3zM64 545h4v1h-4zM910 545h2v1h-2zM42 546h2v1h-2zM61 546h3v1h-3zM912 546h3v1h-3zM44 547h2v1h-2zM53 547h8v1h-8zM150 547h5v1h-5zM164 547h4v1h-4zM915 547h2v1h-2zM46 548h7v1h-7zM155 548h9v1h-9zM168 548h2v1h-2zM917 548h3v1h-3zM170 549h2v1h-2zM920 549h3v1h-3zM172 550h2v1h-2zM923 550h2v1h-2zM174 551h2v1h-2zM925 551h3v1h-3zM176 552h2v1h-2zM928 552h2v1h-2zM934 552h3v1h-3zM930 553h4v1h-4zM190 565h2v1h-2zM192 566h2v1h-2zM194 567h3v1h-3zM197 568h3v1h-3zM200 569h2v1h-2zM202 570h8v1h-8zM210 571h9v1h-9zM271 571h2v1h-2zM219 572h4v1h-4zM269 572h2v1h-2zM223 573h4v1h-4zM267 573h2v1h-2zM227 574h4v1h-4zM265 574h2v1h-2zM231 575h3v1h-3zM263 575h2v1h-2zM234 576h4v1h-4zM260 576h3v1h-3zM238 577h3v1h-3zM255 577h5v1h-5zM241 578h14v1h-14zM0 493h1v1h-1zM1 494h1v1h-1zM4 496h1v1h-1zM5 497h1v1h-1zM8 499h1v1h-1zM9 500h1v2h-1zM10 502h1v2h-1zM11 504h1v1h-1zM12 505h1v2h-1zM13 507h1v1h-1zM14 508h1v2h-1zM15 510h1v2h-1zM16 512h1v1h-1zM17 513h1v2h-1zM18 515h1v2h-1zM19 517h1v1h-1zM20 518h1v2h-1zM21 520h1v2h-1zM22 522h1v2h-1zM23 524h1v1h-1zM24 525h1v2h-1zM25 527h1v2h-1zM26 529h1v1h-1zM27 530h1v1h-1zM28 531h1v2h-1zM29 533h1v1h-1zM30 534h1v1h-1zM31 535h1v2h-1zM32 537h1v1h-1zM33 538h1v1h-1zM34 539h1v2h-1zM35 541h1v1h-1zM36 542h1v1h-1zM41 545h1v1h-1zM100 537h1v1h-1zM137 535h1v1h-1zM138 536h1v1h-1zM141 538h1v1h-1zM142 539h1v1h-1zM143 540h1v1h-1zM144 541h1v1h-1zM145 542h1v1h-1zM146 543h1v1h-1zM147 544h1v1h-1zM148 545h1v1h-1zM149 546h1v1h-1zM178 553h1v1h-1zM179 554h1v1h-1zM180 555h1v1h-1zM181 556h1v1h-1zM182 557h1v1h-1zM183 558h1v1h-1zM184 559h1v1h-1zM185 560h1v1h-1zM186 561h1v1h-1zM187 562h1v1h-1zM188 563h1v1h-1zM189 564h1v1h-1zM273 570h1v1h-1zM274 568h1v2h-1zM275 567h1v1h-1zM276 566h1v1h-1zM277 565h1v1h-1zM278 564h1v1h-1zM279 562h1v2h-1zM280 561h1v1h-1zM281 560h1v1h-1zM282 558h1v2h-1zM283 557h1v1h-1zM284 555h1v2h-1zM285 554h1v1h-1zM286 552h1v2h-1zM287 551h1v1h-1zM288 549h1v2h-1zM289 548h1v1h-1zM290 546h1v2h-1zM291 545h1v1h-1zM292 543h1v2h-1zM293 541h1v2h-1zM294 539h1v2h-1zM295 537h1v2h-1zM296 536h1v1h-1zM297 534h1v2h-1zM298 532h1v2h-1zM299 530h1v2h-1zM300 528h1v2h-1zM301 526h1v2h-1zM302 524h1v2h-1zM303 521h1v3h-1zM304 519h1v2h-1zM305 516h1v3h-1zM306 514h1v2h-1zM307 511h1v3h-1zM308 509h1v2h-1zM309 506h1v3h-1zM310 504h1v2h-1zM311 501h1v3h-1zM312 498h1v3h-1zM313 495h1v3h-1zM314 492h1v3h-1zM315 489h1v3h-1zM316 486h1v3h-1zM317 483h1v3h-1zM318 480h1v3h-1zM319 477h1v3h-1zM320 474h1v3h-1zM321 471h1v3h-1zM322 468h1v3h-1zM323 465h1v3h-1zM324 462h1v3h-1zM325 459h1v3h-1zM326 457h1v2h-1zM327 456h1v1h-1zM328 455h1v1h-1zM329 454h1v1h-1zM330 453h1v1h-1zM333 451h1v1h-1zM336 449h1v1h-1zM337 448h1v1h-1zM340 446h1v1h-1zM369 437h1v1h-1zM374 434h1v1h-1zM424 439h1v1h-1zM425 440h1v2h-1zM426 442h1v1h-1zM427 443h1v1h-1zM428 444h1v2h-1zM429 446h1v1h-1zM430 447h1v1h-1zM431 448h1v2h-1zM432 450h1v1h-1zM433 451h1v1h-1zM434 452h1v1h-1zM435 453h1v1h-1zM436 454h1v1h-1zM437 455h1v1h-1zM438 456h1v1h-1zM439 457h1v2h-1zM440 459h1v1h-1zM441 460h1v1h-1zM442 461h1v1h-1zM443 462h1v1h-1zM444 463h1v1h-1zM455 469h1v1h-1zM470 461h1v1h-1zM475 458h1v1h-1zM478 456h1v1h-1zM489 450h1v1h-1zM490 449h1v1h-1zM491 447h1v2h-1zM492 446h1v1h-1zM493 445h1v1h-1zM494 444h1v1h-1zM495 443h1v1h-1zM496 442h1v1h-1zM497 441h1v1h-1zM498 439h1v2h-1zM499 438h1v1h-1zM500 437h1v1h-1zM535 425h1v1h-1zM538 427h1v1h-1zM543 430h1v1h-1zM546 432h1v1h-1zM549 434h1v1h-1zM552 436h1v1h-1zM553 437h1v1h-1zM554 438h1v2h-1zM555 440h1v1h-1zM556 441h1v1h-1zM557 442h1v2h-1zM558 444h1v2h-1zM559 446h1v2h-1zM560 448h1v2h-1zM561 450h1v2h-1zM562 452h1v2h-1zM563 454h1v2h-1zM564 456h1v2h-1zM565 458h1v2h-1zM566 460h1v3h-1zM567 463h1v2h-1zM568 465h1v3h-1zM569 468h1v2h-1zM570 470h1v2h-1zM571 472h1v3h-1zM572 475h1v2h-1zM573 477h1v3h-1zM574 480h1v2h-1zM575 482h1v2h-1zM576 484h1v2h-1zM577 486h1v2h-1zM578 488h1v2h-1zM579 490h1v2h-1zM580 492h1v2h-1zM581 494h1v2h-1zM582 496h1v1h-1zM583 497h1v2h-1zM584 499h1v1h-1zM585 500h1v1h-1zM586 501h1v1h-1zM587 502h1v1h-1zM588 503h1v2h-1zM589 505h1v1h-1zM590 506h1v1h-1zM649 504h1v1h-1zM650 502h1v2h-1zM651 500h1v2h-1zM652 499h1v1h-1zM653 497h1v2h-1zM654 496h1v1h-1zM655 494h1v2h-1zM656 492h1v2h-1zM657 491h1v1h-1zM658 489h1v2h-1zM659 487h1v2h-1zM660 485h1v2h-1zM661 483h1v2h-1zM711 478h1v1h-1zM712 477h1v1h-1zM713 476h1v1h-1zM714 475h1v1h-1zM715 474h1v1h-1zM716 473h1v1h-1zM717 472h1v1h-1zM718 471h1v1h-1zM719 470h1v1h-1zM720 469h1v1h-1zM721 468h1v1h-1zM722 467h1v1h-1zM723 466h1v1h-1zM724 465h1v1h-1zM725 464h1v1h-1zM726 463h1v1h-1zM767 471h1v1h-1zM768 472h1v1h-1zM769 473h1v1h-1zM772 475h1v1h-1zM773 476h1v1h-1zM774 477h1v1h-1zM775 478h1v2h-1zM776 480h1v2h-1zM777 482h1v1h-1zM778 483h1v2h-1zM779 485h1v2h-1zM780 487h1v2h-1zM781 489h1v1h-1zM782 490h1v2h-1zM783 492h1v1h-1zM784 493h1v2h-1zM785 495h1v1h-1zM786 496h1v1h-1zM787 497h1v2h-1zM788 499h1v1h-1zM789 500h1v2h-1zM790 502h1v1h-1zM793 504h1v1h-1zM798 507h1v1h-1zM860 505h1v1h-1zM865 502h1v1h-1zM887 506h1v1h-1zM888 507h1v2h-1zM889 509h1v2h-1zM890 511h1v2h-1zM891 513h1v2h-1zM892 515h1v2h-1zM893 517h1v2h-1zM894 519h1v2h-1zM895 521h1v3h-1zM896 524h1v2h-1zM897 526h1v2h-1zM898 528h1v2h-1zM899 530h1v3h-1zM900 533h1v2h-1zM901 535h1v2h-1zM902 537h1v2h-1zM903 539h1v1h-1zM904 540h1v1h-1zM905 541h1v1h-1zM908 543h1v1h-1zM909 544h1v1h-1zM937 551h1v1h-1zM938 549h1v2h-1zM939 548h1v1h-1zM940 547h1v1h-1zM941 545h1v2h-1zM942 544h1v1h-1zM943 543h1v1h-1zM944 541h1v2h-1zM945 540h1v1h-1zM946 538h1v2h-1zM947 537h1v1h-1zM948 535h1v2h-1zM949 534h1v1h-1zM950 533h1v1h-1zM951 531h1v2h-1zM952 530h1v1h-1zM953 528h1v2h-1zM954 527h1v1h-1zM955 525h1v2h-1zM956 524h1v1h-1zM957 522h1v2h-1zM958 520h1v2h-1zM959 519h1v1h-1zM960 517h1v2h-1zM961 515h1v2h-1zM962 513h1v2h-1zM963 512h1v1h-1zM964 510h1v2h-1zM965 508h1v2h-1zM966 507h1v1h-1zM967 505h1v2h-1zM968 503h1v2h-1zM969 501h1v2h-1zM970 500h1v1h-1zM971 498h1v2h-1zM972 496h1v2h-1zM973 494h1v2h-1zM974 492h1v2h-1zM975 490h1v2h-1zM976 488h1v2h-1zM977 486h1v2h-1zM978 484h1v2h-1zM979 482h1v2h-1zM980 480h1v2h-1zM981 478h1v2h-1zM982 476h1v2h-1zM983 474h1v2h-1zM984 473h1v1h-1zM985 471h1v2h-1zM986 469h1v2h-1zM987 467h1v2h-1zM988 465h1v2h-1zM989 463h1v2h-1zM990 461h1v2h-1zM991 459h1v2h-1zM992 457h1v2h-1zM993 455h1v2h-1zM994 452h1v3h-1zM995 450h1v2h-1zM996 448h1v2h-1zM997 445h1v3h-1zM998 443h1v2h-1zM999 440h1v3h-1zM1000 438h1v2h-1zM1001 436h1v2h-1zM1002 433h1v3h-1zM1003 431h1v2h-1zM1004 428h1v3h-1zM1005 426h1v2h-1zM1006 423h1v3h-1zM1007 421h1v2h-1zM1008 418h1v3h-1zM1009 415h1v3h-1zM1010 413h1v2h-1zM1011 410h1v3h-1zM1012 408h1v2h-1zM1013 405h1v3h-1zM1014 403h1v2h-1zM1015 400h1v3h-1zM1016 397h1v3h-1zM1017 395h1v2h-1zM1018 392h1v3h-1zM1019 389h1v3h-1zM1020 385h1v4h-1zM1021 382h1v3h-1zM1022 379h1v3h-1zM1023 376h1v3h-1zM1024 373h1v3h-1zM1025 369h1v4h-1zM1026 366h1v3h-1zM1027 363h1v3h-1zM1028 360h1v3h-1zM1029 357h1v3h-1zM1030 353h1v4h-1zM1031 350h1v3h-1zM1032 347h1v3h-1zM1033 344h1v3h-1zM1034 341h1v3h-1zM1035 338h1v3h-1zM1036 335h1v3h-1zM1037 332h1v3h-1zM1038 328h1v4h-1zM1039 325h1v3h-1zM1040 322h1v3h-1zM1041 319h1v3h-1zM1042 316h1v3h-1zM1043 314h1v2h-1zM1044 312h1v2h-1zM1045 311h1v1h-1zM1046 309h1v2h-1zM1047 307h1v2h-1zM1062 305h1v1h-1zM1063 304h1v1h-1zM1064 303h1v1h-1zM1067 301h1v1h-1zM1068 300h1v1h-1zM1069 299h1v1h-1zM1070 298h1v1h-1zM1071 297h1v1h-1zM1072 296h1v1h-1zM1073 295h1v1h-1zM1074 294h1v1h-1zM1075 293h1v1h-1zM1076 292h1v1h-1zM1077 291h1v1h-1zM1078 290h1v1h-1zM1079 289h1v1h-1zM1082 287h1v1h-1zM1087 284h1v1h-1zM1090 282h1v1h-1zM1095 279h1v1h-1zM1102 275h1v1h-1zM1109 271h1v1h-1zM1110 270h1v1h-1zM1111 269h1v1h-1zM1112 268h1v1h-1zM1113 267h1v1h-1zM1114 266h1v1h-1zM1115 265h1v1h-1zM1116 264h1v1h-1zM1117 263h1v1h-1zM1120 261h1v1h-1zM1121 260h1v1h-1zM1122 259h1v1h-1zM1123 258h1v1h-1zM1124 257h1v1h-1zM1125 256h1v1h-1zM1126 255h1v1h-1zM1127 254h1v1h-1zM1128 253h1v1h-1zM1129 252h1v1h-1zM1130 251h1v1h-1zM1131 250h1v1h-1zM1132 249h1v1h-1zM1133 248h1v1h-1zM1134 247h1v1h-1zM1137 245h1v1h-1zM1138 244h1v1h-1zM1139 243h1v1h-1zM1140 242h1v1h-1zM1141 241h1v1h-1zM1142 240h1v1h-1zM1143 239h1v1h-1zM1144 238h1v1h-1zM1145 236h1v2h-1zM1146 235h1v1h-1zM1147 234h1v1h-1zM1148 233h1v1h-1zM1149 232h1v1h-1zM1150 231h1v1h-1zM1151 230h1v1h-1zM1152 229h1v1h-1zM1153 228h1v1h-1zM1154 227h1v1h-1zM1155 226h1v1h-1zM1156 225h1v1h-1zM1157 224h1v1h-1zM1158 223h1v1h-1zM1161 221h1v1h-1zM1241 217h1v1h-1zM1242 216h1v1h-1zM1245 214h1v1h-1zM1246 213h1v1h-1zM1247 212h1v1h-1zM1248 211h1v1h-1zM1249 210h1v1h-1zM1250 209h1v1h-1zM1251 207h1v2h-1zM1252 206h1v1h-1zM1253 205h1v1h-1zM1254 204h1v1h-1zM1255 205h1v1h-1zM1256 206h1v1h-1zM1257 207h1v1h-1zM1258 208h1v2h-1zM1259 210h1v1h-1zM1260 211h1v1h-1zM1261 212h1v1h-1zM1262 213h1v2h-1zM1263 215h1v1h-1zM1264 216h1v2h-1zM1265 218h1v2h-1zM1266 220h1v1h-1zM1267 221h1v2h-1zM1268 223h1v2h-1zM1269 225h1v1h-1zM1270 226h1v2h-1zM1271 228h1v2h-1zM1272 230h1v1h-1zM1273 229h1v1h-1zM1276 227h1v1h-1zM1277 226h1v1h-1zM1280 224h1v1h-1zM1281 223h1v1h-1zM1282 222h1v1h-1zM1285 220h1v1h-1zM1286 219h1v1h-1z" fill="#28a860"/>
<rect x="0" y="183" width="1626" height="1" fill="#c0c0c0"/>
<rect x="0" y="137" width="1626" height="1" fill="#ff0000"/>
<rect x="0" y="157" width="1626" height="1" fill="#ff0000"/>
<rect x="0" y="199" width="1626" height="1" fill="#32cd32"/>
<rect x="0" y="224" width="1626" height="1" fill="#0000ff"/>
<rect x="0" y="250" width="1626" height="1" fill="#0000ff"/>
<path d="M0 456h1v3h-1zM6 453h1v13h-1zM4 455h5v7h-5zM14 468h1v44h-1zM12 483h5v13h-5zM22 493h1v22h-1zM20 496h5v19h-5zM30 486h1v22h-1zM28 499h5v4h-5zM38 495h1v17h-1zM36 498h5v7h-5zM46 497h1v32h-1zM44 505h5v5h-5zM54 495h1v19h-1zM52 502h5v6h-5zM62 491h1v43h-1zM60 491h5v35h-5zM70 479h1v23h-1zM68 494h5v2h-5zM78 499h1v37h-1zM76 501h5v24h-5zM86 489h1v20h-1zM84 501h5v8h-5zM94 504h1v43h-1zM92 512h5v35h-5zM102 471h1v48h-1zM100 481h5v32h-5zM110 477h1v40h-1zM108 485h5v22h-5zM118 497h1v65h-1zM116 504h5v29h-5zM126 473h1v71h-1zM124 500h5v22h-5zM134 498h1v27h-1zM132 499h5v21h-5zM142 519h1v31h-1zM140 540h5v3h-5zM150 532h1v20h-1zM148 541h5v8h-5zM158 524h1v46h-1zM156 537h5v26h-5zM166 525h1v19h-1zM164 528h5v10h-5zM174 456h1v56h-1zM172 458h5v48h-5zM182 440h1v20h-1zM180 445h5v11h-5zM190 410h1v41h-1zM188 419h5v9h-5zM198 417h1v19h-1zM196 419h5v9h-5zM206 413h1v27h-1zM204 423h5v6h-5zM214 427h1v16h-1zM212 427h5v8h-5zM222 399h1v50h-1zM220 425h5v8h-5zM230 402h1v28h-1zM228 414h5v16h-5zM238 365h1v39h-1zM236 380h5v17h-5zM246 377h1v20h-1zM244 379h5v2h-5zM254 361h1v37h-1zM252 381h5v7h-5zM262 385h1v27h-1zM260 387h5v22h-5zM270 385h1v27h-1zM268 391h5v13h-5zM278 390h1v16h-1zM276 390h5v16h-5zM286 378h1v26h-1zM284 391h5v3h-5zM294 385h1v12h-1zM292 390h5v5h-5zM302 388h1v52h-1zM300 394h5v38h-5zM310 422h1v12h-1zM308 428h5v3h-5zM318 400h1v26h-1zM316 405h5v11h-5zM326 386h1v25h-1zM324 397h5v10h-5zM334 391h1v29h-1zM332 392h5v14h-5zM342 394h1v18h-1zM340 404h5v3h-5zM350 358h1v40h-1zM348 361h5v33h-5zM358 365h1v15h-1zM356 366h5v11h-5zM366 351h1v40h-1zM364 355h5v35h-5zM374 386h1v14h-1zM372 388h5v11h-5zM382 387h1v29h-1zM380 393h5v9h-5zM390 399h1v17h-1zM388 400h5v15h-5zM398 357h1v50h-1zM396 366h5v35h-5zM406 362h1v25h-1zM404 365h5v2h-5zM414 351h1v48h-1zM412 357h5v35h-5zM422 342h1v20h-1zM420 343h5v15h-5zM430 288h1v44h-1zM428 294h5v38h-5zM438 279h1v22h-1zM436 280h5v15h-5zM446 262h1v39h-1zM444 263h5v15h-5zM454 257h1v20h-1zM452 262h5v9h-5zM462 261h1v29h-1zM460 268h5v7h-5zM470 253h1v20h-1zM468 261h5v9h-5zM478 262h1v28h-1zM476 273h5v8h-5zM486 232h1v53h-1zM484 250h5v31h-5zM494 242h1v29h-1zM492 242h5v21h-5zM502 262h1v20h-1zM500 262h5v9h-5zM510 299h1v68h-1zM508 300h5v56h-5zM518 357h1v34h-1zM516 358h5v6h-5zM526 345h1v50h-1zM524 345h5v24h-5zM534 350h1v25h-1zM532 365h5v3h-5zM542 398h1v42h-1zM540 399h5v25h-5zM550 422h1v18h-1zM548 423h5v12h-5zM558 415h1v51h-1zM556 441h5v19h-5zM566 445h1v32h-1zM564 456h5v4h-5zM574 416h1v38h-1zM572 430h5v17h-5zM582 444h1v20h-1zM580 448h5v16h-5zM590 407h1v51h-1zM588 417h5v41h-5zM598 404h1v34h-1zM596 407h5v12h-5zM606 365h1v69h-1zM604 372h5v59h-5zM614 348h1v27h-1zM612 353h5v19h-5zM622 369h1v25h-1zM620 376h5v5h-5zM630 368h1v23h-1zM628 376h5v15h-5zM638 419h1v47h-1zM636 422h5v19h-5zM646 430h1v16h-1zM644 440h5v3h-5zM654 408h1v29h-1zM652 417h5v10h-5zM662 411h1v24h-1zM660 414h5v15h-5zM670 343h1v69h-1zM668 350h5v62h-5zM678 352h1v21h-1zM676 352h5v9h-5zM686 326h1v45h-1zM684 338h5v28h-5zM694 358h1v17h-1zM692 366h5v2h-5zM702 353h1v20h-1zM700 354h5v10h-5zM710 357h1v14h-1zM708 360h5v5h-5zM718 355h1v37h-1zM716 368h5v21h-5zM726 365h1v17h-1zM724 368h5v14h-5zM734 379h1v76h-1zM732 379h5v69h-5zM742 442h1v16h-1zM740 447h5v8h-5zM750 422h1v23h-1zM748 433h5v4h-5zM758 432h1v9h-1zM756 433h5v1h-5zM766 436h1v57h-1zM764 439h5v19h-5zM774 439h1v12h-1zM772 440h5v9h-5zM782 473h1v35h-1zM780 489h5v10h-5zM790 480h1v17h-1zM788 487h5v7h-5zM798 456h1v29h-1zM796 466h5v16h-5zM806 463h1v20h-1zM804 468h5v12h-5zM814 427h1v33h-1zM812 441h5v19h-5zM822 424h1v25h-1zM820 430h5v14h-5zM830 410h1v33h-1zM828 431h5v3h-5zM838 423h1v13h-1zM836 430h5v3h-5zM846 422h1v40h-1zM844 432h5v15h-5zM854 428h1v16h-1zM852 432h5v12h-5zM862 426h1v27h-1zM860 427h5v18h-5zM870 406h1v26h-1zM868 410h5v18h-5zM878 350h1v45h-1zM876 357h5v38h-5zM886 352h1v15h-1zM884 358h5v5h-5zM894 279h1v26h-1zM892 283h5v15h-5zM902 260h1v28h-1zM900 265h5v18h-5zM910 260h1v34h-1zM908 280h5v2h-5zM918 274h1v19h-1zM916 279h5v4h-5zM926 243h1v44h-1zM924 246h5v33h-5zM934 235h1v21h-1zM932 245h5v6h-5zM942 221h1v35h-1zM940 238h5v7h-5zM950 234h1v19h-1zM948 236h5v8h-5zM958 228h1v41h-1zM956 238h5v25h-5zM966 244h1v19h-1zM964 251h5v12h-5zM974 223h1v37h-1zM972 233h5v20h-5zM982 233h1v18h-1zM980 233h5v1h-5zM990 215h1v33h-1zM988 219h5v19h-5zM998 236h1v10h-1zM996 237h5v8h-5zM1006 223h1v19h-1zM1004 227h5v7h-5zM1014 178h1v32h-1zM1012 184h5v21h-5zM1022 178h1v14h-1zM1020 181h5v3h-5zM1030 151h1v38h-1zM1028 155h5v28h-5zM1038 156h1v16h-1zM1036 156h5v12h-5zM1046 169h1v30h-1zM1044 182h5v4h-5zM1054 139h1v58h-1zM1052 148h5v28h-5zM1062 137h1v26h-1zM1060 141h5v9h-5zM1070 94h1v65h-1zM1068 103h5v48h-5zM1078 147h1v20h-1zM1076 149h5v15h-5zM1086 165h1v29h-1zM1084 181h5v4h-5zM1094 174h1v42h-1zM1092 180h5v20h-5zM1102 152h1v31h-1zM1100 165h5v3h-5zM1110 162h1v25h-1zM1108 163h5v10h-5zM1118 190h1v54h-1zM1116 203h5v36h-5zM1126 203h1v23h-1zM1124 203h5v15h-5zM1134 156h1v20h-1zM1132 162h5v7h-5zM1142 137h1v27h-1zM1140 139h5v23h-5zM1150 125h1v27h-1zM1148 133h5v5h-5zM1158 127h1v18h-1zM1156 133h5v5h-5zM1166 85h1v42h-1zM1164 95h5v32h-5zM1174 81h1v19h-1zM1172 93h5v3h-5zM1182 56h1v45h-1zM1180 59h5v35h-5zM1190 86h1v30h-1zM1188 93h5v23h-5zM1198 85h1v50h-1zM1196 95h5v34h-5zM1206 109h1v26h-1zM1204 120h5v9h-5zM1214 82h1v41h-1zM1212 108h5v7h-5zM1222 99h1v19h-1zM1220 101h5v13h-5zM1230 64h1v51h-1zM1228 83h5v20h-5zM1238 75h1v34h-1zM1236 77h5v26h-5zM1246 57h1v38h-1zM1244 65h5v30h-5zM1254 88h1v42h-1zM1252 94h5v36h-5zM1262 140h1v72h-1zM1260 144h5v63h-5zM1270 204h1v43h-1zM1268 206h5v28h-5zM1278 190h1v45h-1zM1276 204h5v13h-5zM1286 172h1v28h-1zM1284 183h5v14h-5z" fill="#000"/>
<path d="M37 499h3v5h-3zM45 506h3v3h-3zM53 503h3v4h-3zM61 492h3v33h-3zM77 502h3v22h-3zM93 513h3v33h-3zM101 482h3v30h-3zM125 501h3v20h-3zM141 541h3v1h-3zM157 538h3v24h-3zM165 529h3v8h-3zM173 459h3v46h-3zM181 446h3v9h-3zM189 420h3v7h-3zM229 415h3v14h-3zM237 381h3v15h-3zM269 392h3v11h-3zM285 392h3v1h-3zM309 429h3v1h-3zM317 406h3v9h-3zM325 398h3v8h-3zM349 362h3v31h-3zM397 367h3v33h-3zM413 358h3v33h-3zM421 344h3v13h-3zM429 295h3v36h-3zM437 281h3v13h-3zM445 264h3v13h-3zM461 269h3v5h-3zM469 262h3v7h-3zM485 251h3v29h-3zM533 366h3v1h-3zM565 457h3v2h-3zM589 418h3v39h-3zM597 408h3v10h-3zM605 373h3v57h-3zM613 354h3v17h-3zM621 377h3v3h-3zM661 415h3v13h-3zM669 351h3v60h-3zM709 361h3v3h-3zM717 369h3v19h-3zM749 434h3v2h-3zM765 440h3v17h-3zM781 490h3v8h-3zM805 469h3v10h-3zM813 442h3v17h-3zM821 431h3v12h-3zM829 432h3v1h-3zM845 433h3v13h-3zM861 428h3v16h-3zM869 411h3v16h-3zM877 358h3v36h-3zM893 284h3v13h-3zM901 266h3v16h-3zM925 247h3v31h-3zM949 237h3v6h-3zM965 252h3v10h-3zM973 234h3v18h-3zM1013 185h3v19h-3zM1021 182h3v1h-3zM1029 156h3v26h-3zM1053 149h3v26h-3zM1061 142h3v7h-3zM1085 182h3v2h-3zM1101 166h3v1h-3zM1117 204h3v34h-3zM1133 163h3v5h-3zM1141 140h3v21h-3zM1157 134h3v3h-3zM1165 96h3v30h-3zM1173 94h3v1h-3zM1205 121h3v7h-3zM1221 102h3v11h-3zM1237 78h3v24h-3zM1277 205h3v11h-3zM1285 184h3v12h-3z" fill="#fff"/>
<path d="M6 704h1v14h-1zM14 704h1v23h-1zM22 704h1v33h-1zM30 704h1v38h-1zM38 704h1v41h-1zM46 704h1v44h-1zM54 704h1v45h-1zM62 704h1v44h-1zM70 704h1v43h-1zM78 704h1v43h-1zM86 704h1v41h-1zM94 704h1v40h-1zM102 704h1v39h-1zM110 704h1v39h-1zM118 704h1v43h-1zM126 704h1v40h-1zM134 704h1v40h-1zM142 704h1v41h-1zM150 704h1v47h-1zM158 704h1v47h-1zM166 704h1v46h-1zM174 704h1v32h-1zM182 704h1v19h-1zM190 704h1v4h-1zM198 698h1v7h-1zM206 690h1v15h-1zM214 685h1v20h-1zM222 681h1v24h-1zM230 675h1v30h-1zM238 665h1v40h-1zM246 658h1v47h-1zM254 654h1v51h-1zM262 655h1v50h-1zM270 653h1v52h-1zM278 655h1v50h-1zM286 654h1v51h-1zM294 655h1v50h-1zM302 663h1v42h-1zM310 668h1v37h-1zM318 670h1v35h-1zM326 669h1v36h-1zM334 671h1v34h-1zM342 673h1v32h-1zM350 667h1v38h-1zM358 666h1v39h-1zM366 668h1v37h-1zM374 670h1v35h-1zM382 673h1v32h-1zM390 678h1v27h-1zM398 675h1v30h-1zM406 672h1v33h-1zM414 669h1v36h-1zM422 665h1v40h-1zM430 653h1v52h-1zM438 643h1v62h-1zM446 632h1v73h-1zM454 626h1v79h-1zM462 622h1v83h-1zM470 618h1v87h-1zM478 620h1v85h-1zM486 617h1v88h-1zM494 617h1v88h-1zM502 620h1v85h-1zM510 638h1v67h-1zM518 654h1v51h-1zM526 668h1v37h-1zM534 678h1v27h-1zM542 697h1v8h-1zM550 704h1v8h-1zM558 704h1v25h-1zM566 704h1v38h-1zM574 704h1v46h-1zM582 704h1v54h-1zM590 704h1v52h-1zM598 704h1v49h-1zM606 704h1v39h-1zM614 704h1v28h-1zM622 704h1v23h-1zM630 704h1v21h-1zM638 704h1v28h-1zM646 704h1v33h-1zM654 704h1v34h-1zM662 704h1v34h-1zM670 704h1v21h-1zM678 704h1v12h-1zM686 704h1v7h-1zM694 704h1v2h-1zM702 703h1v2h-1zM710 700h1v5h-1zM718 698h1v7h-1zM726 699h1v6h-1zM734 704h1v6h-1zM742 704h1v17h-1zM750 704h1v22h-1zM758 704h1v25h-1zM766 704h1v29h-1zM774 704h1v32h-1zM782 704h1v42h-1zM790 704h1v49h-1zM798 704h1v53h-1zM806 704h1v52h-1zM814 704h1v47h-1zM822 704h1v41h-1zM830 704h1v36h-1zM838 704h1v31h-1zM846 704h1v27h-1zM854 704h1v26h-1zM862 704h1v22h-1zM870 704h1v15h-1zM878 704h1v1h-1zM886 696h1v9h-1zM894 675h1v30h-1zM902 656h1v49h-1zM910 644h1v61h-1zM918 636h1v69h-1zM926 624h1v81h-1zM934 616h1v89h-1zM942 610h1v95h-1zM950 605h1v100h-1zM958 606h1v99h-1zM966 607h1v98h-1zM974 606h1v99h-1zM982 606h1v99h-1zM990 607h1v98h-1zM998 611h1v94h-1zM1006 613h1v92h-1zM1014 608h1v97h-1zM1022 604h1v101h-1zM1030 598h1v107h-1zM1038 596h1v109h-1zM1046 599h1v106h-1zM1054 597h1v108h-1zM1062 595h1v110h-1zM1070 596h1v109h-1zM1078 600h1v105h-1zM1086 608h1v97h-1zM1094 618h1v87h-1zM1102 621h1v84h-1zM1110 626h1v79h-1zM1118 636h1v69h-1zM1126 647h1v58h-1zM1134 646h1v59h-1zM1142 643h1v62h-1zM1150 641h1v64h-1zM1158 639h1v66h-1zM1166 632h1v73h-1zM1174 627h1v78h-1zM1182 624h1v81h-1zM1190 627h1v78h-1zM1198 631h1v74h-1zM1206 635h1v70h-1zM1214 637h1v68h-1zM1222 638h1v67h-1zM1230 639h1v66h-1zM1238 636h1v69h-1zM1246 638h1v67h-1zM1254 646h1v59h-1zM1262 666h1v39h-1zM1270 687h1v18h-1zM1278 698h1v7h-1zM1286 703h1v2h-1z" fill="#c0c0c0"/>
<path d="M1080 598h3v1h-3zM1086 598h3v1h-3zM1074 599h3v1h-3zM1068 600h3v1h-3zM1092 600h3v1h-3zM1063 601h2v1h-2zM1057 602h2v1h-2zM1098 602h3v1h-3zM1051 603h2v1h-2zM1038 604h3v1h-3zM1044 604h3v1h-3zM1105 604h2v1h-2zM1032 605h3v1h-3zM1026 607h2v1h-2zM1111 607h2v1h-2zM996 608h3v1h-3zM1002 608h3v1h-3zM1008 608h3v1h-3zM1014 608h3v1h-3zM1020 608h3v1h-3zM990 609h3v1h-3zM985 611h2v1h-2zM979 614h2v1h-2zM1123 614h2v1h-2zM1128 617h2v1h-2zM972 618h2v1h-2zM505 623h3v1h-3zM512 623h2v1h-2zM499 625h3v1h-3zM518 625h2v1h-2zM493 628h2v1h-2zM523 628h2v1h-2zM1147 630h2v1h-2zM1218 631h3v1h-3zM1224 631h3v1h-3zM1230 631h3v1h-3zM1236 631h2v1h-2zM487 632h2v1h-2zM529 632h2v1h-2zM1212 632h3v1h-3zM1242 632h3v1h-3zM1153 633h2v1h-2zM1201 633h2v1h-2zM1206 633h2v1h-2zM1158 634h3v1h-3zM1249 634h2v1h-2zM1164 635h2v1h-2zM1194 635h2v1h-2zM1188 636h3v1h-3zM1254 636h2v1h-2zM1170 637h3v1h-3zM1182 637h3v1h-3zM1176 638h3v1h-3zM1260 639h2v1h-2zM475 640h2v1h-2zM469 644h2v1h-2zM464 648h2v1h-2zM457 653h2v1h-2zM295 657h3v1h-3zM301 657h3v1h-3zM307 657h3v1h-3zM313 658h3v1h-3zM289 659h2v1h-2zM319 659h3v1h-3zM325 660h3v1h-3zM284 661h2v1h-2zM332 661h2v1h-2zM445 661h2v1h-2zM337 662h2v1h-2zM278 664h2v1h-2zM343 664h3v1h-3zM439 664h2v1h-2zM349 665h3v1h-3zM355 666h3v1h-3zM434 666h2v1h-2zM272 667h2v1h-2zM361 667h3v1h-3zM367 668h3v1h-3zM373 668h3v1h-3zM427 668h3v1h-3zM379 669h3v1h-3zM385 669h2v1h-2zM391 670h2v1h-2zM416 670h2v1h-2zM421 670h3v1h-3zM397 671h3v1h-3zM403 671h3v1h-3zM409 671h3v1h-3zM253 680h2v1h-2zM738 707h3v1h-3zM732 708h3v1h-3zM744 708h3v1h-3zM750 708h2v1h-2zM756 709h2v1h-2zM727 710h2v1h-2zM763 712h2v1h-2zM721 713h2v1h-2zM769 715h2v1h-2zM715 716h2v1h-2zM35 717h2v1h-2zM774 718h2v1h-2zM709 719h2v1h-2zM703 722h2v1h-2zM696 724h3v1h-3zM208 726h2v1h-2zM690 726h2v1h-2zM47 727h2v1h-2zM685 727h2v1h-2zM679 729h2v1h-2zM203 730h2v1h-2zM53 731h2v1h-2zM672 731h3v1h-3zM667 733h2v1h-2zM876 733h2v1h-2zM58 734h2v1h-2zM660 736h2v1h-2zM798 736h2v1h-2zM870 737h2v1h-2zM65 738h2v1h-2zM606 738h2v1h-2zM654 738h2v1h-2zM649 739h2v1h-2zM70 740h2v1h-2zM190 740h2v1h-2zM804 740h2v1h-2zM864 740h2v1h-2zM642 741h3v1h-3zM185 742h2v1h-2zM613 742h2v1h-2zM636 742h3v1h-3zM810 742h3v1h-3zM77 743h2v1h-2zM618 743h2v1h-2zM630 743h3v1h-3zM858 743h2v1h-2zM179 744h2v1h-2zM624 744h3v1h-3zM816 744h3v1h-3zM82 745h3v1h-3zM853 745h2v1h-2zM130 746h3v1h-3zM136 746h3v1h-3zM142 746h3v1h-3zM172 746h3v1h-3zM823 746h2v1h-2zM89 747h2v1h-2zM112 747h3v1h-3zM118 747h3v1h-3zM124 747h3v1h-3zM148 747h3v1h-3zM154 747h3v1h-3zM829 747h2v1h-2zM834 747h3v1h-3zM846 747h3v1h-3zM95 748h2v1h-2zM100 748h3v1h-3zM106 748h3v1h-3zM160 748h3v1h-3zM166 748h2v1h-2zM840 748h3v1h-3zM0 680h1v1h-1zM1 681h1v1h-1zM2 682h1v1h-1zM5 686h1v1h-1zM6 687h1v1h-1zM7 688h1v1h-1zM11 692h1v1h-1zM12 693h1v1h-1zM13 694h1v1h-1zM16 698h1v1h-1zM17 699h1v1h-1zM18 700h1v1h-1zM22 704h1v1h-1zM23 705h1v1h-1zM24 706h1v1h-1zM28 710h1v1h-1zM29 711h1v1h-1zM30 712h1v1h-1zM34 716h1v1h-1zM40 721h1v1h-1zM41 722h1v1h-1zM42 723h1v1h-1zM46 726h1v1h-1zM52 730h1v1h-1zM60 735h1v1h-1zM64 737h1v1h-1zM72 741h1v1h-1zM76 742h1v1h-1zM88 746h1v1h-1zM94 747h1v1h-1zM168 747h1v1h-1zM178 745h1v1h-1zM184 743h1v1h-1zM192 739h1v1h-1zM196 736h1v1h-1zM197 735h1v1h-1zM198 734h1v1h-1zM202 731h1v1h-1zM210 725h1v1h-1zM214 721h1v1h-1zM215 720h1v1h-1zM216 719h1v1h-1zM220 716h1v1h-1zM221 715h1v1h-1zM222 714h1v1h-1zM226 710h1v1h-1zM227 709h1v1h-1zM228 708h1v1h-1zM232 704h1v1h-1zM233 703h1v1h-1zM234 702h1v1h-1zM237 698h1v1h-1zM238 697h1v1h-1zM239 696h1v1h-1zM243 692h1v1h-1zM244 690h1v2h-1zM248 686h1v1h-1zM249 684h1v2h-1zM255 679h1v1h-1zM259 676h1v1h-1zM260 675h1v1h-1zM261 674h1v1h-1zM265 672h1v1h-1zM266 671h1v1h-1zM267 670h1v1h-1zM271 668h1v1h-1zM277 665h1v1h-1zM283 662h1v1h-1zM291 658h1v1h-1zM331 660h1v1h-1zM339 663h1v1h-1zM387 670h1v1h-1zM393 671h1v1h-1zM415 671h1v1h-1zM433 667h1v1h-1zM441 663h1v1h-1zM447 660h1v1h-1zM451 658h1v1h-1zM452 657h1v1h-1zM453 656h1v1h-1zM459 652h1v1h-1zM463 649h1v1h-1zM471 643h1v1h-1zM477 639h1v1h-1zM481 637h1v1h-1zM482 636h1v1h-1zM483 635h1v1h-1zM489 631h1v1h-1zM495 627h1v1h-1zM511 622h1v1h-1zM517 624h1v1h-1zM525 629h1v1h-1zM531 633h1v1h-1zM535 636h1v1h-1zM536 637h1v1h-1zM537 638h1v1h-1zM541 642h1v1h-1zM542 643h1v1h-1zM543 644h1v1h-1zM547 648h1v1h-1zM548 649h1v2h-1zM551 654h1v1h-1zM552 655h1v2h-1zM555 660h1v1h-1zM556 661h1v2h-1zM559 666h1v2h-1zM560 668h1v1h-1zM562 672h1v1h-1zM563 673h1v1h-1zM564 674h1v1h-1zM566 678h1v2h-1zM567 680h1v1h-1zM569 684h1v2h-1zM570 686h1v1h-1zM572 690h1v2h-1zM573 692h1v1h-1zM576 696h1v2h-1zM577 698h1v1h-1zM580 702h1v2h-1zM581 704h1v1h-1zM583 708h1v1h-1zM584 709h1v1h-1zM585 710h1v1h-1zM587 714h1v1h-1zM588 715h1v2h-1zM591 720h1v1h-1zM592 721h1v2h-1zM595 726h1v1h-1zM596 727h1v1h-1zM597 728h1v1h-1zM600 732h1v1h-1zM601 733h1v1h-1zM602 734h1v1h-1zM608 739h1v1h-1zM612 741h1v1h-1zM620 744h1v1h-1zM648 740h1v1h-1zM656 737h1v1h-1zM662 735h1v1h-1zM666 734h1v1h-1zM678 730h1v1h-1zM684 728h1v1h-1zM692 725h1v1h-1zM702 723h1v1h-1zM708 720h1v1h-1zM714 717h1v1h-1zM720 714h1v1h-1zM726 711h1v1h-1zM752 709h1v1h-1zM758 710h1v1h-1zM762 711h1v1h-1zM768 714h1v1h-1zM776 719h1v1h-1zM780 721h1v1h-1zM781 722h1v1h-1zM782 723h1v1h-1zM786 725h1v1h-1zM787 726h1v1h-1zM788 727h1v1h-1zM792 730h1v1h-1zM793 731h1v1h-1zM794 732h1v1h-1zM800 737h1v1h-1zM806 741h1v1h-1zM822 745h1v1h-1zM828 746h1v1h-1zM852 746h1v1h-1zM860 742h1v1h-1zM866 739h1v1h-1zM872 736h1v1h-1zM878 732h1v1h-1zM882 729h1v1h-1zM883 728h1v1h-1zM884 727h1v1h-1zM888 724h1v1h-1zM889 723h1v1h-1zM890 722h1v1h-1zM894 718h1v1h-1zM895 717h1v1h-1zM896 716h1v1h-1zM900 712h1v1h-1zM901 711h1v1h-1zM902 710h1v1h-1zM905 706h1v1h-1zM906 704h1v2h-1zM909 700h1v1h-1zM910 699h1v1h-1zM911 698h1v1h-1zM914 694h1v1h-1zM915 692h1v2h-1zM918 688h1v1h-1zM919 687h1v1h-1zM920 686h1v1h-1zM922 682h1v1h-1zM923 681h1v1h-1zM924 680h1v1h-1zM926 676h1v1h-1zM927 675h1v1h-1zM928 674h1v1h-1zM930 670h1v1h-1zM931 669h1v1h-1zM932 668h1v1h-1zM934 664h1v1h-1zM935 662h1v2h-1zM938 658h1v1h-1zM939 656h1v2h-1zM942 651h1v2h-1zM943 650h1v1h-1zM946 646h1v1h-1zM947 644h1v2h-1zM950 640h1v1h-1zM951 639h1v1h-1zM952 638h1v1h-1zM955 634h1v1h-1zM956 633h1v1h-1zM957 632h1v1h-1zM960 628h1v1h-1zM961 627h1v1h-1zM962 626h1v1h-1zM966 623h1v1h-1zM967 622h1v1h-1zM968 621h1v1h-1zM974 617h1v1h-1zM978 615h1v1h-1zM984 612h1v1h-1zM1028 606h1v1h-1zM1050 604h1v1h-1zM1056 603h1v1h-1zM1062 602h1v1h-1zM1104 603h1v1h-1zM1110 606h1v1h-1zM1116 609h1v1h-1zM1117 610h1v1h-1zM1118 611h1v1h-1zM1122 613h1v1h-1zM1130 618h1v1h-1zM1134 621h1v1h-1zM1135 622h1v1h-1zM1136 623h1v1h-1zM1140 625h1v1h-1zM1141 626h1v1h-1zM1142 627h1v1h-1zM1146 629h1v1h-1zM1152 632h1v1h-1zM1166 636h1v1h-1zM1196 634h1v1h-1zM1200 634h1v1h-1zM1208 632h1v1h-1zM1238 632h1v1h-1zM1248 633h1v1h-1zM1256 637h1v1h-1zM1262 640h1v1h-1zM1266 642h1v1h-1zM1267 643h1v1h-1zM1268 644h1v1h-1zM1272 647h1v1h-1zM1273 648h1v1h-1zM1274 649h1v1h-1zM1278 653h1v1h-1zM1279 654h1v1h-1zM1280 655h1v1h-1zM1284 658h1v1h-1zM1285 659h1v1h-1zM1286 660h1v1h-1z" fill="#ff0000"/>
<path d="M0 802h2v1h-2zM5 802h3v1h-3zM11 802h3v1h-3zM17 802h3v1h-3zM23 802h3v1h-3zM29 802h3v1h-3zM35 802h3v1h-3zM41 802h3v1h-3zM47 802h3v1h-3zM53 802h3v1h-3zM59 802h3v1h-3zM65 802h3v1h-3zM71 802h3v1h-3zM77 802h3v1h-3zM83 802h3v1h-3zM89 802h3v1h-3zM95 802h3v1h-3zM101 802h3v1h-3zM107 802h3v1h-3zM113 802h3v1h-3zM119 802h3v1h-3zM125 802h3v1h-3zM131 802h3v1h-3zM137 802h3v1h-3zM143 802h3v1h-3zM149 802h3v1h-3zM155 802h3v1h-3zM161 802h3v1h-3zM167 802h3v1h-3zM173 802h3v1h-3zM179 802h3v1h-3zM185 802h3v1h-3zM191 802h3v1h-3zM197 802h3v1h-3zM203 802h3v1h-3zM209 802h3v1h-3zM215 802h3v1h-3zM221 802h3v1h-3zM227 802h3v1h-3zM233 802h3v1h-3zM239 802h3v1h-3zM245 802h3v1h-3zM251 802h3v1h-3zM257 802h3v1h-3zM263 802h3v1h-3zM269 802h3v1h-3zM275 802h3v1h-3zM281 802h3v1h-3zM287 802h3v1h-3zM293 802h3v1h-3zM299 802h3v1h-3zM305 802h3v1h-3zM311 802h3v1h-3zM317 802h3v1h-3zM323 802h3v1h-3zM329 802h3v1h-3zM335 802h3v1h-3zM341 802h3v1h-3zM347 802h3v1h-3zM353 802h3v1h-3zM359 802h3v1h-3zM365 802h3v1h-3zM371 802h3v1h-3zM377 802h3v1h-3zM383 802h3v1h-3zM389 802h3v1h-3zM395 802h3v1h-3zM401 802h3v1h-3zM407 802h3v1h-3zM413 802h3v1h-3zM419 802h3v1h-3zM425 802h3v1h-3zM431 802h3v1h-3zM437 802h3v1h-3zM443 802h3v1h-3zM449 802h3v1h-3zM455 802h3v1h-3zM461 802h3v1h-3zM467 802h3v1h-3zM473 802h3v1h-3zM479 802h3v1h-3zM485 802h3v1h-3zM491 802h3v1h-3zM497 802h3v1h-3zM503 802h3v1h-3zM509 802h3v1h-3zM515 802h3v1h-3zM521 802h3v1h-3zM527 802h3v1h-3zM533 802h3v1h-3zM539 802h3v1h-3zM545 802h3v1h-3zM551 802h3v1h-3zM557 802h3v1h-3zM563 802h3v1h-3zM569 802h3v1h-3zM575 802h3v1h-3zM581 802h3v1h-3zM587 802h3v1h-3zM593 802h3v1h-3zM599 802h3v1h-3zM605 802h3v1h-3zM611 802h3v1h-3zM617 802h3v1h-3zM623 802h3v1h-3zM629 802h3v1h-3zM635 802h3v1h-3zM641 802h3v1h-3zM647 802h3v1h-3zM653 802h3v1h-3zM659 802h3v1h-3zM665 802h3v1h-3zM671 802h3v1h-3zM677 802h3v1h-3zM683 802h3v1h-3zM689 802h3v1h-3zM695 802h3v1h-3zM701 802h3v1h-3zM707 802h3v1h-3zM713 802h3v1h-3zM719 802h3v1h-3zM725 802h3v1h-3zM731 802h3v1h-3zM737 802h3v1h-3zM743 802h3v1h-3zM749 802h3v1h-3zM755 802h3v1h-3zM761 802h3v1h-3zM767 802h3v1h-3zM773 802h3v1h-3zM779 802h3v1h-3zM785 802h3v1h-3zM791 802h3v1h-3zM797 802h3v1h-3zM803 802h3v1h-3zM809 802h3v1h-3zM815 802h3v1h-3zM821 802h3v1h-3zM827 802h3v1h-3zM833 802h3v1h-3zM839 802h3v1h-3zM845 802h3v1h-3zM851 802h3v1h-3zM857 802h3v1h-3zM863 802h3v1h-3zM869 802h3v1h-3zM875 802h3v1h-3zM881 802h3v1h-3zM887 802h3v1h-3zM893 802h3v1h-3zM899 802h3v1h-3zM905 802h3v1h-3zM911 802h3v1h-3zM917 802h3v1h-3zM923 802h3v1h-3zM929 802h3v1h-3zM935 802h3v1h-3zM941 802h3v1h-3zM947 802h3v1h-3zM953 802h3v1h-3zM959 802h3v1h-3zM965 802h3v1h-3zM971 802h3v1h-3zM977 802h3v1h-3zM983 802h3v1h-3zM989 802h3v1h-3zM995 802h3v1h-3zM1001 802h3v1h-3zM1007 802h3v1h-3zM1013 802h3v1h-3zM1019 802h3v1h-3zM1025 802h3v1h-3zM1031 802h3v1h-3zM1037 802h3v1h-3zM1043 802h3v1h-3zM1049 802h3v1h-3zM1055 802h3v1h-3zM1061 802h3v1h-3zM1067 802h3v1h-3zM1073 802h3v1h-3zM1079 802h3v1h-3zM1085 802h3v1h-3zM1091 802h3v1h-3zM1097 802h3v1h-3zM1103 802h3v1h-3zM1109 802h3v1h-3zM1115 802h3v1h-3zM1121 802h3v1h-3zM1127 802h3v1h-3zM1133 802h3v1h-3zM1139 802h3v1h-3zM1145 802h3v1h-3zM1151 802h3v1h-3zM1157 802h3v1h-3zM1163 802h3v1h-3zM1169 802h3v1h-3zM1175 802h3v1h-3zM1181 802h3v1h-3zM1187 802h3v1h-3zM1193 802h3v1h-3zM1199 802h3v1h-3zM1205 802h3v1h-3zM1211 802h3v1h-3zM1217 802h3v1h-3zM1223 802h3v1h-3zM1229 802h3v1h-3zM1235 802h3v1h-3zM1241 802h3v1h-3zM1247 802h3v1h-3zM1253 802h3v1h-3zM1259 802h3v1h-3zM1265 802h3v1h-3zM1271 802h3v1h-3zM1277 802h3v1h-3zM1283 802h3v1h-3zM1289 802h3v1h-3zM1295 802h3v1h-3zM1301 802h3v1h-3zM1307 802h3v1h-3zM1313 802h3v1h-3zM1319 802h3v1h-3zM1325 802h3v1h-3zM1331 802h3v1h-3zM1337 802h3v1h-3zM1343 802h3v1h-3zM1349 802h3v1h-3zM1355 802h3v1h-3zM1361 802h3v1h-3zM1367 802h3v1h-3zM1373 802h3v1h-3zM1379 802h3v1h-3zM1385 802h3v1h-3zM1391 802h3v1h-3zM1397 802h3v1h-3zM1403 802h3v1h-3zM1409 802h3v1h-3zM1415 802h3v1h-3zM1421 802h3v1h-3zM1427 802h3v1h-3zM1433 802h3v1h-3zM1439 802h3v1h-3zM1445 802h3v1h-3zM1451 802h3v1h-3zM1457 802h3v1h-3zM1463 802h3v1h-3zM1469 802h3v1h-3zM1475 802h3v1h-3zM1481 802h3v1h-3zM1487 802h3v1h-3zM1493 802h3v1h-3zM1499 802h3v1h-3zM1505 802h3v1h-3zM1511 802h3v1h-3zM1517 802h3v1h-3zM1523 802h3v1h-3zM1529 802h3v1h-3zM1535 802h3v1h-3zM1541 802h3v1h-3zM1547 802h3v1h-3zM1553 802h3v1h-3zM1559 802h3v1h-3zM1565 802h3v1h-3zM1571 802h3v1h-3zM1577 802h3v1h-3zM1583 802h3v1h-3zM1589 802h3v1h-3zM1595 802h3v1h-3zM1601 802h3v1h-3zM1607 802h3v1h-3zM1613 802h3v1h-3zM1619 802h3v1h-3zM1625 802h1v1h-1zM0 849h2v1h-2zM5 849h3v1h-3zM11 849h3v1h-3zM17 849h3v1h-3zM23 849h3v1h-3zM29 849h3v1h-3zM35 849h3v1h-3zM41 849h3v1h-3zM47 849h3v1h-3zM53 849h3v1h-3zM59 849h3v1h-3zM65 849h3v1h-3zM71 849h3v1h-3zM77 849h3v1h-3zM83 849h3v1h-3zM89 849h3v1h-3zM95 849h3v1h-3zM101 849h3v1h-3zM107 849h3v1h-3zM113 849h3v1h-3zM119 849h3v1h-3zM125 849h3v1h-3zM131 849h3v1h-3zM137 849h3v1h-3zM143 849h3v1h-3zM149 849h3v1h-3zM155 849h3v1h-3zM161 849h3v1h-3zM167 849h3v1h-3zM173 849h3v1h-3zM179 849h3v1h-3zM185 849h3v1h-3zM191 849h3v1h-3zM197 849h3v1h-3zM203 849h3v1h-3zM209 849h3v1h-3zM215 849h3v1h-3zM221 849h3v1h-3zM227 849h3v1h-3zM233 849h3v1h-3zM239 849h3v1h-3zM245 849h3v1h-3zM251 849h3v1h-3zM257 849h3v1h-3zM263 849h3v1h-3zM269 849h3v1h-3zM275 849h3v1h-3zM281 849h3v1h-3zM287 849h3v1h-3zM293 849h3v1h-3zM299 849h3v1h-3zM305 849h3v1h-3zM311 849h3v1h-3zM317 849h3v1h-3zM323 849h3v1h-3zM329 849h3v1h-3zM335 849h3v1h-3zM341 849h3v1h-3zM347 849h3v1h-3zM353 849h3v1h-3zM359 849h3v1h-3zM365 849h3v1h-3zM371 849h3v1h-3zM377 849h3v1h-3zM383 849h3v1h-3zM389 849h3v1h-3zM395 849h3v1h-3zM401 849h3v1h-3zM407 849h3v1h-3zM413 849h3v1h-3zM419 849h3v1h-3zM425 849h3v1h-3zM431 849h3v1h-3zM437 849h3v1h-3zM443 849h3v1h-3zM449 849h3v1h-3zM455 849h3v1h-3zM461 849h3v1h-3zM467 849h3v1h-3zM473 849h3v1h-3zM479 849h3v1h-3zM485 849h3v1h-3zM491 849h3v1h-3zM497 849h3v1h-3zM503 849h3v1h-3zM509 849h3v1h-3zM515 849h3v1h-3zM521 849h3v1h-3zM527 849h3v1h-3zM533 849h3v1h-3zM539 849h3v1h-3zM545 849h3v1h-3zM551 849h3v1h-3zM557 849h3v1h-3zM563 849h3v1h-3zM569 849h3v1h-3zM575 849h3v1h-3zM581 849h3v1h-3zM587 849h3v1h-3zM593 849h3v1h-3zM599 849h3v1h-3zM605 849h3v1h-3zM611 849h3v1h-3zM617 849h3v1h-3zM623 849h3v1h-3zM629 849h3v1h-3zM635 849h3v1h-3zM641 849h3v1h-3zM647 849h3v1h-3zM653 849h3v1h-3zM659 849h3v1h-3zM665 849h3v1h-3zM671 849h3v1h-3zM677 849h3v1h-3zM683 849h3v1h-3zM689 849h3v1h-3zM695 849h3v1h-3zM701 849h3v1h-3zM707 849h3v1h-3zM713 849h3v1h-3zM719 849h3v1h-3zM725 849h3v1h-3zM731 849h3v1h-3zM737 849h3v1h-3zM743 849h3v1h-3zM749 849h3v1h-3zM755 849h3v1h-3zM761 849h3v1h-3zM767 849h3v1h-3zM773 849h3v1h-3zM779 849h3v1h-3zM785 849h3v1h-3zM791 849h3v1h-3zM797 849h3v1h-3zM803 849h3v1h-3zM809 849h3v1h-3zM815 849h3v1h-3zM821 849h3v1h-3zM827 849h3v1h-3zM833 849h3v1h-3zM839 849h3v1h-3zM845 849h3v1h-3zM851 849h3v1h-3zM857 849h3v1h-3zM863 849h3v1h-3zM869 849h3v1h-3zM875 849h3v1h-3zM881 849h3v1h-3zM887 849h3v1h-3zM893 849h3v1h-3zM899 849h3v1h-3zM905 849h3v1h-3zM911 849h3v1h-3zM917 849h3v1h-3zM923 849h3v1h-3zM929 849h3v1h-3zM935 849h3v1h-3zM941 849h3v1h-3zM947 849h3v1h-3zM953 849h3v1h-3zM959 849h3v1h-3zM965 849h3v1h-3zM971 849h3v1h-3zM977 849h3v1h-3zM983 849h3v1h-3zM989 849h3v1h-3zM995 849h3v1h-3zM1001 849h3v1h-3zM1007 849h3v1h-3zM1013 849h3v1h-3zM1019 849h3v1h-3zM1025 849h3v1h-3zM1031 849h3v1h-3zM1037 849h3v1h-3zM1043 849h3v1h-3zM1049 849h3v1h-3zM1055 849h3v1h-3zM1061 849h3v1h-3zM1067 849h3v1h-3zM1073 849h3v1h-3zM1079 849h3v1h-3zM1085 849h3v1h-3zM1091 849h3v1h-3zM1097 849h3v1h-3zM1103 849h3v1h-3zM1109 849h3v1h-3zM1115 849h3v1h-3zM1121 849h3v1h-3zM1127 849h3v1h-3zM1133 849h3v1h-3zM1139 849h3v1h-3zM1145 849h3v1h-3zM1151 849h3v1h-3zM1157 849h3v1h-3zM1163 849h3v1h-3zM1169 849h3v1h-3zM1175 849h3v1h-3zM1181 849h3v1h-3zM1187 849h3v1h-3zM1193 849h3v1h-3zM1199 849h3v1h-3zM1205 849h3v1h-3zM1211 849h3v1h-3zM1217 849h3v1h-3zM1223 849h3v1h-3zM1229 849h3v1h-3zM1235 849h3v1h-3zM1241 849h3v1h-3zM1247 849h3v1h-3zM1253 849h3v1h-3zM1259 849h3v1h-3zM1265 849h3v1h-3zM1271 849h3v1h-3zM1277 849h3v1h-3zM1283 849h3v1h-3zM1289 849h3v1h-3zM1295 849h3v1h-3zM1301 849h3v1h-3zM1307 849h3v1h-3zM1313 849h3v1h-3zM1319 849h3v1h-3zM1325 849h3v1h-3zM1331 849h3v1h-3zM1337 849h3v1h-3zM1343 849h3v1h-3zM1349 849h3v1h-3zM1355 849h3v1h-3zM1361 849h3v1h-3zM1367 849h3v1h-3zM1373 849h3v1h-3zM1379 849h3v1h-3zM1385 849h3v1h-3zM1391 849h3v1h-3zM1397 849h3v1h-3zM1403 849h3v1h-3zM1409 849h3v1h-3zM1415 849h3v1h-3zM1421 849h3v1h-3zM1427 849h3v1h-3zM1433 849h3v1h-3zM1439 849h3v1h-3zM1445 849h3v1h-3zM1451 849h3v1h-3zM1457 849h3v1h-3zM1463 849h3v1h-3zM1469 849h3v1h-3zM1475 849h3v1h-3zM1481 849h3v1h-3zM1487 849h3v1h-3zM1493 849h3v1h-3zM1499 849h3v1h-3zM1505 849h3v1h-3zM1511 849h3v1h-3zM1517 849h3v1h-3zM1523 849h3v1h-3zM1529 849h3v1h-3zM1535 849h3v1h-3zM1541 849h3v1h-3zM1547 849h3v1h-3zM1553 849h3v1h-3zM1559 849h3v1h-3zM1565 849h3v1h-3zM1571 849h3v1h-3zM1577 849h3v1h-3zM1583 849h3v1h-3zM1589 849h3v1h-3zM1595 849h3v1h-3zM1601 849h3v1h-3zM1607 849h3v1h-3zM1613 849h3v1h-3zM1619 849h3v1h-3zM1625 849h1v1h-1zM0 905h2v1h-2zM5 905h3v1h-3zM11 905h3v1h-3zM17 905h3v1h-3zM23 905h3v1h-3zM29 905h3v1h-3zM35 905h3v1h-3zM41 905h3v1h-3zM47 905h3v1h-3zM53 905h3v1h-3zM59 905h3v1h-3zM65 905h3v1h-3zM71 905h3v1h-3zM77 905h3v1h-3zM83 905h3v1h-3zM89 905h3v1h-3zM95 905h3v1h-3zM101 905h3v1h-3zM107 905h3v1h-3zM113 905h3v1h-3zM119 905h3v1h-3zM125 905h3v1h-3zM131 905h3v1h-3zM137 905h3v1h-3zM143 905h3v1h-3zM149 905h3v1h-3zM155 905h3v1h-3zM161 905h3v1h-3zM167 905h3v1h-3zM173 905h3v1h-3zM179 905h3v1h-3zM185 905h3v1h-3zM191 905h3v1h-3zM197 905h3v1h-3zM203 905h3v1h-3zM209 905h3v1h-3zM215 905h3v1h-3zM221 905h3v1h-3zM227 905h3v1h-3zM233 905h3v1h-3zM239 905h3v1h-3zM245 905h3v1h-3zM251 905h3v1h-3zM257 905h3v1h-3zM263 905h3v1h-3zM269 905h3v1h-3zM275 905h3v1h-3zM281 905h3v1h-3zM287 905h3v1h-3zM293 905h3v1h-3zM299 905h3v1h-3zM305 905h3v1h-3zM311 905h3v1h-3zM317 905h3v1h-3zM323 905h3v1h-3zM329 905h3v1h-3zM335 905h3v1h-3zM341 905h3v1h-3zM347 905h3v1h-3zM353 905h3v1h-3zM359 905h3v1h-3zM365 905h3v1h-3zM371 905h3v1h-3zM377 905h3v1h-3zM383 905h3v1h-3zM389 905h3v1h-3zM395 905h3v1h-3zM401 905h3v1h-3zM407 905h3v1h-3zM413 905h3v1h-3zM419 905h3v1h-3zM425 905h3v1h-3zM431 905h3v1h-3zM437 905h3v1h-3zM443 905h3v1h-3zM449 905h3v1h-3zM455 905h3v1h-3zM461 905h3v1h-3zM467 905h3v1h-3zM473 905h3v1h-3zM479 905h3v1h-3zM485 905h3v1h-3zM491 905h3v1h-3zM497 905h3v1h-3zM503 905h3v1h-3zM509 905h3v1h-3zM515 905h3v1h-3zM521 905h3v1h-3zM527 905h3v1h-3zM533 905h3v1h-3zM539 905h3v1h-3zM545 905h3v1h-3zM551 905h3v1h-3zM557 905h3v1h-3zM563 905h3v1h-3zM569 905h3v1h-3zM575 905h3v1h-3zM581 905h3v1h-3zM587 905h3v1h-3zM593 905h3v1h-3zM599 905h3v1h-3zM605 905h3v1h-3zM611 905h3v1h-3zM617 905h3v1h-3zM623 905h3v1h-3zM629 905h3v1h-3zM635 905h3v1h-3zM641 905h3v1h-3zM647 905h3v1h-3zM653 905h3v1h-3zM659 905h3v1h-3zM665 905h3v1h-3zM671 905h3v1h-3zM677 905h3v1h-3zM683 905h3v1h-3zM689 905h3v1h-3zM695 905h3v1h-3zM701 905h3v1h-3zM707 905h3v1h-3zM713 905h3v1h-3zM719 905h3v1h-3zM725 905h3v1h-3zM731 905h3v1h-3zM737 905h3v1h-3zM743 905h3v1h-3zM749 905h3v1h-3zM755 905h3v1h-3zM761 905h3v1h-3zM767 905h3v1h-3zM773 905h3v1h-3zM779 905h3v1h-3zM785 905h3v1h-3zM791 905h3v1h-3zM797 905h3v1h-3zM803 905h3v1h-3zM809 905h3v1h-3zM815 905h3v1h-3zM821 905h3v1h-3zM827 905h3v1h-3zM833 905h3v1h-3zM839 905h3v1h-3zM845 905h3v1h-3zM851 905h3v1h-3zM857 905h3v1h-3zM863 905h3v1h-3zM869 905h3v1h-3zM875 905h3v1h-3zM881 905h3v1h-3zM887 905h3v1h-3zM893 905h3v1h-3zM899 905h3v1h-3zM905 905h3v1h-3zM911 905h3v1h-3zM917 905h3v1h-3zM923 905h3v1h-3zM929 905h3v1h-3zM935 905h3v1h-3zM941 905h3v1h-3zM947 905h3v1h-3zM953 905h3v1h-3zM959 905h3v1h-3zM965 905h3v1h-3zM971 905h3v1h-3zM977 905h3v1h-3zM983 905h3v1h-3zM989 905h3v1h-3zM995 905h3v1h-3zM1001 905h3v1h-3zM1007 905h3v1h-3zM1013 905h3v1h-3zM1019 905h3v1h-3zM1025 905h3v1h-3zM1031 905h3v1h-3zM1037 905h3v1h-3zM1043 905h3v1h-3zM1049 905h3v1h-3zM1055 905h3v1h-3zM1061 905h3v1h-3zM1067 905h3v1h-3zM1073 905h3v1h-3zM1079 905h3v1h-3zM1085 905h3v1h-3zM1091 905h3v1h-3zM1097 905h3v1h-3zM1103 905h3v1h-3zM1109 905h3v1h-3zM1115 905h3v1h-3zM1121 905h3v1h-3zM1127 905h3v1h-3zM1133 905h3v1h-3zM1139 905h3v1h-3zM1145 905h3v1h-3zM1151 905h3v1h-3zM1157 905h3v1h-3zM1163 905h3v1h-3zM1169 905h3v1h-3zM1175 905h3v1h-3zM1181 905h3v1h-3zM1187 905h3v1h-3zM1193 905h3v1h-3zM1199 905h3v1h-3zM1205 905h3v1h-3zM1211 905h3v1h-3zM1217 905h3v1h-3zM1223 905h3v1h-3zM1229 905h3v1h-3zM1235 905h3v1h-3zM1241 905h3v1h-3zM1247 905h3v1h-3zM1253 905h3v1h-3zM1259 905h3v1h-3zM1265 905h3v1h-3zM1271 905h3v1h-3zM1277 905h3v1h-3zM1283 905h3v1h-3zM1289 905h3v1h-3zM1295 905h3v1h-3zM1301 905h3v1h-3zM1307 905h3v1h-3zM1313 905h3v1h-3zM1319 905h3v1h-3zM1325 905h3v1h-3zM1331 905h3v1h-3zM1337 905h3v1h-3zM1343 905h3v1h-3zM1349 905h3v1h-3zM1355 905h3v1h-3zM1361 905h3v1h-3zM1367 905h3v1h-3zM1373 905h3v1h-3zM1379 905h3v1h-3zM1385 905h3v1h-3zM1391 905h3v1h-3zM1397 905h3v1h-3zM1403 905h3v1h-3zM1409 905h3v1h-3zM1415 905h3v1h-3zM1421 905h3v1h-3zM1427 905h3v1h-3zM1433 905h3v1h-3zM1439 905h3v1h-3zM1445 905h3v1h-3zM1451 905h3v1h-3zM1457 905h3v1h-3zM1463 905h3v1h-3zM1469 905h3v1h-3zM1475 905h3v1h-3zM1481 905h3v1h-3zM1487 905h3v1h-3zM1493 905h3v1h-3zM1499 905h3v1h-3zM1505 905h3v1h-3zM1511 905h3v1h-3zM1517 905h3v1h-3zM1523 905h3v1h-3zM1529 905h3v1h-3zM1535 905h3v1h-3zM1541 905h3v1h-3zM1547 905h3v1h-3zM1553 905h3v1h-3zM1559 905h3v1h-3zM1565 905h3v1h-3zM1571 905h3v1h-3zM1577 905h3v1h-3zM1583 905h3v1h-3zM1589 905h3v1h-3zM1595 905h3v1h-3zM1601 905h3v1h-3zM1607 905h3v1h-3zM1613 905h3v1h-3zM1619 905h3v1h-3zM1625 905h1v1h-1z" fill="#c0c0c0"/>
<path d="M1029 804h2v1h-2zM1027 805h2v1h-2zM1025 806h2v1h-2zM1023 807h2v1h-2zM1020 808h3v1h-3zM1016 809h4v1h-4zM445 810h3v1h-3zM900 810h3v1h-3zM946 810h5v1h-5zM1014 810h2v1h-2zM442 811h3v1h-3zM448 811h2v1h-2zM468 811h3v1h-3zM896 811h4v1h-4zM926 811h4v1h-4zM938 811h8v1h-8zM1060 811h3v1h-3zM440 812h2v1h-2zM450 812h3v1h-3zM464 812h4v1h-4zM894 812h2v1h-2zM924 812h2v1h-2zM930 812h8v1h-8zM1056 812h4v1h-4zM1063 812h2v1h-2zM436 813h4v1h-4zM453 813h11v1h-11zM1054 813h2v1h-2zM1065 813h2v1h-2zM432 814h4v1h-4zM906 814h2v1h-2zM1067 814h2v1h-2zM430 815h2v1h-2zM920 815h2v1h-2zM1069 815h2v1h-2zM973 816h11v1h-11zM1050 816h2v1h-2zM488 817h2v1h-2zM910 817h9v1h-9zM971 817h2v1h-2zM984 817h4v1h-4zM1072 817h2v1h-2zM482 818h2v1h-2zM969 818h2v1h-2zM988 818h3v1h-3zM967 819h2v1h-2zM991 819h2v1h-2zM1005 819h2v1h-2zM1166 819h17v1h-17zM238 820h9v1h-9zM492 820h2v1h-2zM964 820h3v1h-3zM993 820h2v1h-2zM1002 820h3v1h-3zM1076 820h2v1h-2zM247 821h2v1h-2zM960 821h4v1h-4zM995 821h2v1h-2zM1000 821h2v1h-2zM249 822h2v1h-2zM495 822h2v1h-2zM958 822h2v1h-2zM997 822h3v1h-3zM1236 822h2v1h-2zM251 823h2v1h-2zM497 823h2v1h-2zM253 824h2v1h-2zM499 824h2v1h-2zM501 825h2v1h-2zM1232 825h2v1h-2zM421 827h2v1h-2zM878 827h3v1h-3zM1154 827h5v1h-5zM1221 827h10v1h-10zM419 828h2v1h-2zM881 828h2v1h-2zM1148 828h6v1h-6zM1219 828h2v1h-2zM190 829h2v1h-2zM352 829h2v1h-2zM417 829h2v1h-2zM883 829h2v1h-2zM1144 829h4v1h-4zM1217 829h2v1h-2zM188 830h2v1h-2zM192 830h2v1h-2zM229 830h2v1h-2zM269 830h2v1h-2zM415 830h2v1h-2zM885 830h2v1h-2zM1103 830h2v1h-2zM1141 830h3v1h-3zM1215 830h2v1h-2zM194 831h3v1h-3zM227 831h2v1h-2zM267 831h2v1h-2zM286 831h2v1h-2zM412 831h3v1h-3zM1105 831h2v1h-2zM1139 831h2v1h-2zM1191 831h2v1h-2zM1210 831h5v1h-5zM197 832h11v1h-11zM225 832h2v1h-2zM265 832h2v1h-2zM272 832h2v1h-2zM284 832h2v1h-2zM288 832h2v1h-2zM356 832h2v1h-2zM408 832h4v1h-4zM1107 832h2v1h-2zM1137 832h2v1h-2zM1205 832h5v1h-5zM184 833h2v1h-2zM208 833h4v1h-4zM223 833h2v1h-2zM263 833h2v1h-2zM282 833h2v1h-2zM290 833h3v1h-3zM398 833h10v1h-10zM1109 833h2v1h-2zM1135 833h2v1h-2zM1194 833h2v1h-2zM1202 833h3v1h-3zM212 834h11v1h-11zM293 834h2v1h-2zM1196 834h2v1h-2zM1200 834h2v1h-2zM181 835h2v1h-2zM276 835h2v1h-2zM279 835h2v1h-2zM360 835h2v1h-2zM1090 835h2v1h-2zM1198 835h2v1h-2zM178 836h3v1h-3zM176 837h2v1h-2zM324 837h4v1h-4zM174 838h2v1h-2zM320 838h4v1h-4zM328 838h2v1h-2zM364 838h2v1h-2zM318 839h2v1h-2zM330 839h3v1h-3zM670 839h2v1h-2zM333 840h3v1h-3zM367 840h2v1h-2zM672 840h2v1h-2zM336 841h4v1h-4zM369 841h2v1h-2zM674 841h3v1h-3zM340 842h3v1h-3zM371 842h2v1h-2zM613 842h2v1h-2zM677 842h5v1h-5zM706 842h6v1h-6zM373 843h3v1h-3zM611 843h2v1h-2zM682 843h8v1h-8zM698 843h8v1h-8zM712 843h2v1h-2zM376 844h4v1h-4zM609 844h2v1h-2zM616 844h2v1h-2zM690 844h8v1h-8zM714 844h3v1h-3zM868 844h2v1h-2zM380 845h3v1h-3zM607 845h2v1h-2zM717 845h2v1h-2zM1119 845h2v1h-2zM383 846h2v1h-2zM719 846h2v1h-2zM306 847h5v1h-5zM620 847h2v1h-2zM864 847h2v1h-2zM1122 847h2v1h-2zM302 848h4v1h-4zM386 848h2v1h-2zM722 848h2v1h-2zM1124 848h2v1h-2zM388 849h3v1h-3zM623 849h2v1h-2zM724 849h2v1h-2zM625 850h2v1h-2zM627 851h2v1h-2zM629 852h2v1h-2zM821 852h26v1h-26zM819 853h2v1h-2zM817 854h2v1h-2zM848 854h2v1h-2zM102 855h2v1h-2zM815 855h2v1h-2zM510 856h2v1h-2zM1285 856h2v1h-2zM512 857h4v1h-4zM597 857h2v1h-2zM661 857h2v1h-2zM852 857h2v1h-2zM1283 857h2v1h-2zM516 858h4v1h-4zM594 858h3v1h-3zM658 858h3v1h-3zM1281 858h2v1h-2zM0 859h2v1h-2zM127 859h2v1h-2zM520 859h4v1h-4zM530 859h5v1h-5zM592 859h2v1h-2zM656 859h2v1h-2zM1279 859h2v1h-2zM2 860h3v1h-3zM524 860h6v1h-6zM590 860h2v1h-2zM654 860h2v1h-2zM5 861h2v1h-2zM130 861h2v1h-2zM652 861h2v1h-2zM132 862h2v1h-2zM165 862h2v1h-2zM650 862h2v1h-2zM750 862h10v1h-10zM62 863h4v1h-4zM163 863h2v1h-2zM760 863h4v1h-4zM60 864h2v1h-2zM66 864h6v1h-6zM161 864h2v1h-2zM647 864h2v1h-2zM764 864h3v1h-3zM58 865h2v1h-2zM72 865h4v1h-4zM136 865h2v1h-2zM159 865h2v1h-2zM638 865h9v1h-9zM767 865h2v1h-2zM76 866h4v1h-4zM769 866h2v1h-2zM55 867h2v1h-2zM80 867h2v1h-2zM156 867h2v1h-2zM771 867h2v1h-2zM804 867h2v1h-2zM36 868h4v1h-4zM52 868h3v1h-3zM82 868h3v1h-3zM140 868h2v1h-2zM154 868h2v1h-2zM773 868h2v1h-2zM32 869h4v1h-4zM40 869h4v1h-4zM48 869h4v1h-4zM85 869h5v1h-5zM142 869h2v1h-2zM734 869h2v1h-2zM30 870h2v1h-2zM44 870h4v1h-4zM90 870h5v1h-5zM144 870h4v1h-4zM151 870h2v1h-2zM736 870h4v1h-4zM800 870h2v1h-2zM1266 870h2v1h-2zM15 871h2v1h-2zM28 871h2v1h-2zM148 871h3v1h-3zM740 871h3v1h-3zM26 872h2v1h-2zM18 873h2v1h-2zM542 873h2v1h-2zM796 873h2v1h-2zM20 874h2v1h-2zM23 874h2v1h-2zM544 874h2v1h-2zM794 874h2v1h-2zM546 875h3v1h-3zM572 875h2v1h-2zM575 875h2v1h-2zM549 876h2v1h-2zM570 876h2v1h-2zM577 876h2v1h-2zM791 876h2v1h-2zM551 877h2v1h-2zM579 877h2v1h-2zM782 877h9v1h-9zM567 878h2v1h-2zM581 878h2v1h-2zM554 879h2v1h-2zM564 879h3v1h-3zM556 880h2v1h-2zM560 880h4v1h-4zM558 881h2v1h-2zM7 862h1v1h-1zM8 863h1v1h-1zM9 864h1v1h-1zM10 865h1v2h-1zM11 867h1v1h-1zM12 868h1v1h-1zM13 869h1v1h-1zM14 870h1v1h-1zM17 872h1v1h-1zM22 875h1v1h-1zM25 873h1v1h-1zM57 866h1v1h-1zM95 868h1v2h-1zM96 866h1v2h-1zM97 864h1v2h-1zM98 862h1v2h-1zM99 860h1v2h-1zM100 858h1v2h-1zM101 856h1v2h-1zM102 854h1v1h-1zM104 856h1v1h-1zM105 857h1v1h-1zM106 858h1v2h-1zM107 860h1v1h-1zM108 861h1v1h-1zM109 862h1v1h-1zM110 863h1v1h-1zM111 864h1v1h-1zM112 865h1v1h-1zM113 866h1v1h-1zM114 867h1v1h-1zM115 868h1v1h-1zM116 869h1v1h-1zM117 870h1v1h-1zM118 871h1v1h-1zM119 869h1v2h-1zM120 867h1v2h-1zM121 866h1v1h-1zM122 864h1v2h-1zM123 863h1v1h-1zM124 861h1v2h-1zM125 859h1v2h-1zM126 858h1v1h-1zM129 860h1v1h-1zM134 863h1v1h-1zM135 864h1v1h-1zM138 866h1v1h-1zM139 867h1v1h-1zM153 869h1v1h-1zM158 866h1v1h-1zM166 861h1v1h-1zM167 858h1v3h-1zM168 855h1v3h-1zM169 852h1v3h-1zM170 849h1v3h-1zM171 846h1v3h-1zM172 843h1v3h-1zM173 840h1v3h-1zM174 839h1v1h-1zM183 834h1v1h-1zM186 832h1v1h-1zM187 831h1v1h-1zM231 829h1v1h-1zM232 827h1v2h-1zM233 826h1v1h-1zM234 825h1v1h-1zM235 824h1v1h-1zM236 822h1v2h-1zM237 821h1v1h-1zM255 825h1v1h-1zM256 826h1v2h-1zM257 828h1v1h-1zM258 829h1v1h-1zM259 830h1v1h-1zM260 831h1v2h-1zM261 833h1v1h-1zM262 834h1v1h-1zM271 831h1v1h-1zM274 833h1v1h-1zM275 834h1v1h-1zM278 836h1v1h-1zM281 834h1v1h-1zM295 835h1v2h-1zM296 837h1v2h-1zM297 839h1v2h-1zM298 841h1v1h-1zM299 842h1v2h-1zM300 844h1v2h-1zM301 846h1v2h-1zM311 846h1v1h-1zM312 845h1v1h-1zM313 844h1v1h-1zM314 843h1v1h-1zM315 842h1v1h-1zM316 841h1v1h-1zM317 840h1v1h-1zM343 840h1v2h-1zM344 838h1v2h-1zM345 836h1v2h-1zM346 834h1v2h-1zM347 832h1v2h-1zM348 830h1v2h-1zM349 828h1v2h-1zM350 827h1v1h-1zM351 828h1v1h-1zM354 830h1v1h-1zM355 831h1v1h-1zM358 833h1v1h-1zM359 834h1v1h-1zM362 836h1v1h-1zM363 837h1v1h-1zM366 839h1v1h-1zM385 847h1v1h-1zM390 850h1v1h-1zM391 847h1v2h-1zM392 845h1v2h-1zM393 843h1v2h-1zM394 841h1v2h-1zM395 839h1v2h-1zM396 837h1v2h-1zM397 835h1v2h-1zM398 834h1v1h-1zM423 825h1v2h-1zM424 824h1v1h-1zM425 822h1v2h-1zM426 821h1v1h-1zM427 819h1v2h-1zM428 818h1v1h-1zM429 816h1v2h-1zM471 812h1v2h-1zM472 814h1v1h-1zM473 815h1v1h-1zM474 816h1v2h-1zM475 818h1v1h-1zM476 819h1v1h-1zM477 820h1v2h-1zM478 822h1v1h-1zM479 821h1v1h-1zM480 820h1v1h-1zM481 819h1v1h-1zM484 817h1v1h-1zM485 816h1v1h-1zM486 815h1v1h-1zM487 816h1v1h-1zM490 818h1v1h-1zM491 819h1v1h-1zM494 821h1v1h-1zM502 826h1v1h-1zM503 827h1v4h-1zM504 831h1v4h-1zM505 835h1v4h-1zM506 839h1v4h-1zM507 843h1v4h-1zM508 847h1v4h-1zM509 851h1v4h-1zM510 855h1v1h-1zM535 860h1v2h-1zM536 862h1v2h-1zM537 864h1v2h-1zM538 866h1v1h-1zM539 867h1v2h-1zM540 869h1v2h-1zM541 871h1v2h-1zM553 878h1v1h-1zM569 877h1v1h-1zM574 874h1v1h-1zM582 877h1v1h-1zM583 875h1v2h-1zM584 873h1v2h-1zM585 871h1v2h-1zM586 868h1v3h-1zM587 866h1v2h-1zM588 864h1v2h-1zM589 862h1v2h-1zM590 861h1v1h-1zM599 855h1v2h-1zM600 854h1v1h-1zM601 853h1v1h-1zM602 851h1v2h-1zM603 850h1v1h-1zM604 849h1v1h-1zM605 847h1v2h-1zM606 846h1v1h-1zM615 843h1v1h-1zM618 845h1v1h-1zM619 846h1v1h-1zM622 848h1v1h-1zM631 853h1v2h-1zM632 855h1v2h-1zM633 857h1v1h-1zM634 858h1v2h-1zM635 860h1v1h-1zM636 861h1v2h-1zM637 863h1v2h-1zM649 863h1v1h-1zM662 856h1v1h-1zM663 854h1v2h-1zM664 852h1v2h-1zM665 850h1v2h-1zM666 847h1v3h-1zM667 845h1v2h-1zM668 843h1v2h-1zM669 841h1v2h-1zM670 840h1v1h-1zM721 847h1v1h-1zM726 850h1v2h-1zM727 852h1v2h-1zM728 854h1v2h-1zM729 856h1v3h-1zM730 859h1v2h-1zM731 861h1v3h-1zM732 864h1v2h-1zM733 866h1v2h-1zM734 868h1v1h-1zM743 870h1v1h-1zM744 869h1v1h-1zM745 868h1v1h-1zM746 866h1v2h-1zM747 865h1v1h-1zM748 864h1v1h-1zM749 863h1v1h-1zM775 869h1v1h-1zM776 870h1v1h-1zM777 871h1v1h-1zM778 872h1v2h-1zM779 874h1v1h-1zM780 875h1v1h-1zM781 876h1v1h-1zM793 875h1v1h-1zM798 872h1v1h-1zM799 871h1v1h-1zM802 869h1v1h-1zM803 868h1v1h-1zM806 866h1v1h-1zM807 865h1v1h-1zM808 863h1v2h-1zM809 862h1v1h-1zM810 861h1v1h-1zM811 860h1v1h-1zM812 858h1v2h-1zM813 857h1v1h-1zM814 856h1v1h-1zM847 853h1v1h-1zM850 855h1v1h-1zM851 856h1v1h-1zM854 858h1v1h-1zM855 857h1v1h-1zM856 856h1v1h-1zM857 855h1v1h-1zM858 853h1v2h-1zM859 852h1v1h-1zM860 851h1v1h-1zM861 850h1v1h-1zM862 849h1v1h-1zM863 848h1v1h-1zM866 846h1v1h-1zM867 845h1v1h-1zM870 842h1v2h-1zM871 840h1v2h-1zM872 838h1v2h-1zM873 836h1v2h-1zM874 834h1v2h-1zM875 832h1v2h-1zM876 830h1v2h-1zM877 828h1v2h-1zM878 826h1v1h-1zM886 829h1v1h-1zM887 827h1v2h-1zM888 825h1v2h-1zM889 823h1v2h-1zM890 820h1v3h-1zM891 818h1v2h-1zM892 816h1v2h-1zM893 814h1v2h-1zM894 813h1v1h-1zM903 811h1v1h-1zM904 812h1v1h-1zM905 813h1v1h-1zM908 815h1v1h-1zM909 816h1v1h-1zM919 816h1v1h-1zM922 814h1v1h-1zM923 813h1v1h-1zM951 811h1v2h-1zM952 813h1v1h-1zM953 814h1v2h-1zM954 816h1v1h-1zM955 817h1v2h-1zM956 819h1v1h-1zM957 820h1v2h-1zM1007 818h1v1h-1zM1008 817h1v1h-1zM1009 816h1v1h-1zM1010 814h1v2h-1zM1011 813h1v1h-1zM1012 812h1v1h-1zM1013 811h1v1h-1zM1031 805h1v1h-1zM1032 806h1v1h-1zM1033 807h1v1h-1zM1034 808h1v1h-1zM1035 809h1v1h-1zM1036 810h1v1h-1zM1037 811h1v1h-1zM1038 812h1v1h-1zM1039 813h1v1h-1zM1040 814h1v1h-1zM1041 815h1v1h-1zM1042 816h1v1h-1zM1043 817h1v1h-1zM1044 818h1v1h-1zM1045 819h1v1h-1zM1046 820h1v1h-1zM1047 819h1v1h-1zM1048 818h1v1h-1zM1049 817h1v1h-1zM1052 815h1v1h-1zM1053 814h1v1h-1zM1071 816h1v1h-1zM1074 818h1v1h-1zM1075 819h1v1h-1zM1078 821h1v1h-1zM1079 822h1v1h-1zM1080 823h1v2h-1zM1081 825h1v1h-1zM1082 826h1v1h-1zM1083 827h1v1h-1zM1084 828h1v2h-1zM1085 830h1v1h-1zM1086 831h1v1h-1zM1087 832h1v1h-1zM1088 833h1v1h-1zM1089 834h1v1h-1zM1092 836h1v1h-1zM1093 837h1v1h-1zM1094 838h1v1h-1zM1095 837h1v1h-1zM1096 836h1v1h-1zM1097 835h1v1h-1zM1098 833h1v2h-1zM1099 832h1v1h-1zM1100 831h1v1h-1zM1101 830h1v1h-1zM1102 829h1v1h-1zM1111 834h1v2h-1zM1112 836h1v1h-1zM1113 837h1v1h-1zM1114 838h1v2h-1zM1115 840h1v1h-1zM1116 841h1v1h-1zM1117 842h1v2h-1zM1118 844h1v1h-1zM1121 846h1v1h-1zM1126 849h1v1h-1zM1127 847h1v2h-1zM1128 845h1v2h-1zM1129 843h1v2h-1zM1130 841h1v2h-1zM1131 839h1v2h-1zM1132 837h1v2h-1zM1133 835h1v2h-1zM1134 834h1v1h-1zM1159 826h1v1h-1zM1160 825h1v1h-1zM1161 824h1v1h-1zM1162 823h1v1h-1zM1163 822h1v1h-1zM1164 821h1v1h-1zM1165 820h1v1h-1zM1183 820h1v2h-1zM1184 822h1v1h-1zM1185 823h1v1h-1zM1186 824h1v2h-1zM1187 826h1v1h-1zM1188 827h1v1h-1zM1189 828h1v2h-1zM1190 830h1v1h-1zM1193 832h1v1h-1zM1231 826h1v1h-1zM1234 824h1v1h-1zM1235 823h1v1h-1zM1238 821h1v1h-1zM1239 822h1v1h-1zM1240 823h1v1h-1zM1241 824h1v1h-1zM1242 825h1v1h-1zM1243 826h1v1h-1zM1244 827h1v1h-1zM1245 828h1v1h-1zM1246 829h1v1h-1zM1247 830h1v2h-1zM1248 832h1v2h-1zM1249 834h1v2h-1zM1250 836h1v2h-1zM1251 838h1v2h-1zM1252 840h1v2h-1zM1253 842h1v2h-1zM1254 844h1v2h-1zM1255 846h1v3h-1zM1256 849h1v2h-1zM1257 851h1v3h-1zM1258 854h1v3h-1zM1259 857h1v3h-1zM1260 860h1v2h-1zM1261 862h1v3h-1zM1262 865h1v2h-1zM1263 867h1v1h-1zM1264 868h1v1h-1zM1265 869h1v1h-1zM1268 871h1v1h-1zM1269 872h1v1h-1zM1270 873h1v1h-1zM1271 871h1v2h-1zM1272 869h1v2h-1zM1273 868h1v1h-1zM1274 866h1v2h-1zM1275 865h1v1h-1zM1276 863h1v2h-1zM1277 861h1v2h-1zM1278 860h1v1h-1z" fill="#1e90ff"/>
</g>
<g>
<line x1="1241.7" y1="60" x2="1269.9" y2="241.5" stroke="#ff0000" stroke-width="3.2" shape-rendering="crispEdges"/>
<polygon points="1270.4,244.5 1263.4,234.5 1269.0,235.8 1274.0,232.8" fill="#ff0000" shape-rendering="crispEdges"/>
<line x1="1271.5" y1="242" x2="1296.1" y2="146.9" stroke="#ff0000" stroke-width="3.2" shape-rendering="crispEdges"/>
<polygon points="1296.8,144.0 1299.3,156.5 1294.5,152.9 1288.5,153.7" fill="#ff0000" shape-rendering="crispEdges"/>
<rect x="1232" y="195" width="81" height="9" fill="#00ff00" shape-rendering="crispEdges"/>
<g shape-rendering="crispEdges"><rect x="1393.5" y="183.5" width="99" height="32" fill="#fff" stroke="#ff0000" stroke-width="1"/>
<rect x="1383" y="199" width="8" height="1" fill="#ff0000"/>
<rect x="1390.5" y="197.5" width="3" height="4" fill="#fff" stroke="#ff0000" stroke-width="1"/></g>
<text x="1394.8" y="210" font-size="28.8" fill="#ff0000" textLength="96.4" lengthAdjust="spacingAndGlyphs">28179.4</text>
<polygon points="1294,30 1303,30 1298.5,35" fill="#c0c0c0"/>
<path d="M4 36h1v1h-1zM3 37h3v1h-3zM2 38h5v1h-5zM1 39h7v1h-7z" fill="#000" shape-rendering="crispEdges"/>
<text x="12.6" y="41" font-size="9.6" fill="#000" textLength="40.96" lengthAdjust="spacingAndGlyphs">HK50-,H4</text>
<text x="60.3" y="41" font-size="9.6" fill="#000" textLength="141.6" lengthAdjust="spacingAndGlyphs">28197.0 28372.0 28178.0 28299.0</text>
<text class="cjk" x="1362.3" y="284" font-size="32" fill="#0c2c0c" textLength="164" lengthAdjust="spacing">多空转折点</text>
<text class="cjk" x="1361.3" y="283" font-size="32" fill="#00ff00" textLength="164" lengthAdjust="spacing">多空转折点</text>
</g>
<g class="crisp">
<rect x="0" y="29" width="1627" height="1" fill="#000"/>
<rect x="1626" y="29" width="1" height="554" fill="#000"/>
<rect x="1626" y="584" width="1" height="184" fill="#000"/>
<rect x="1626" y="769" width="1" height="161" fill="#000"/>
<rect x="0" y="582" width="1627" height="1" fill="#000"/>
<rect x="0" y="584" width="1627" height="1" fill="#000"/>
<rect x="0" y="767" width="1627" height="1" fill="#000"/>
<rect x="0" y="769" width="1627" height="1" fill="#000"/>
<rect x="0" y="929" width="1627" height="1" fill="#000"/>
<rect x="1627" y="51" width="2" height="1" fill="#000"/>
<text x="1631.7" y="55" font-size="9.6" fill="#000" textLength="33.73" lengthAdjust="spacingAndGlyphs">29254.0</text>
<rect x="1627" y="84" width="2" height="1" fill="#000"/>
<text x="1631.7" y="88" font-size="9.6" fill="#000" textLength="33.73" lengthAdjust="spacingAndGlyphs">29016.0</text>
<rect x="1627" y="117" width="2" height="1" fill="#000"/>
<text x="1631.7" y="121" font-size="9.6" fill="#000" textLength="33.73" lengthAdjust="spacingAndGlyphs">28771.0</text>
<rect x="1627" y="150" width="2" height="1" fill="#000"/>
<text x="1631.7" y="154" font-size="9.6" fill="#000" textLength="33.73" lengthAdjust="spacingAndGlyphs">28533.0</text>
<rect x="1627" y="183" width="2" height="1" fill="#000"/>
<text x="1631.7" y="187" font-size="9.6" fill="#000" textLength="33.73" lengthAdjust="spacingAndGlyphs">28299.0</text>
<rect x="1627" y="216" width="2" height="1" fill="#000"/>
<text x="1631.7" y="220" font-size="9.6" fill="#000" textLength="33.73" lengthAdjust="spacingAndGlyphs">28057.0</text>
<rect x="1627" y="249" width="2" height="1" fill="#000"/>
<text x="1631.7" y="253" font-size="9.6" fill="#000" textLength="33.73" lengthAdjust="spacingAndGlyphs">27819.0</text>
<rect x="1627" y="283" width="2" height="1" fill="#000"/>
<text x="1631.7" y="287" font-size="9.6" fill="#000" textLength="33.73" lengthAdjust="spacingAndGlyphs">27581.0</text>
<rect x="1627" y="315" width="2" height="1" fill="#000"/>
<text x="1631.7" y="319" font-size="9.6" fill="#000" textLength="33.73" lengthAdjust="spacingAndGlyphs">27343.0</text>
<rect x="1627" y="349" width="2" height="1" fill="#000"/>
<text x="1631.7" y="353" font-size="9.6" fill="#000" textLength="33.73" lengthAdjust="spacingAndGlyphs">27105.0</text>
<rect x="1627" y="381" width="2" height="1" fill="#000"/>
<text x="1631.7" y="385" font-size="9.6" fill="#000" textLength="33.73" lengthAdjust="spacingAndGlyphs">26860.0</text>
<rect x="1627" y="414" width="2" height="1" fill="#000"/>
<text x="1631.7" y="418" font-size="9.6" fill="#000" textLength="33.73" lengthAdjust="spacingAndGlyphs">26622.0</text>
<rect x="1627" y="447" width="2" height="1" fill="#000"/>
<text x="1631.7" y="451" font-size="9.6" fill="#000" textLength="33.73" lengthAdjust="spacingAndGlyphs">26384.0</text>
<rect x="1627" y="480" width="2" height="1" fill="#000"/>
<text x="1631.7" y="484" font-size="9.6" fill="#000" textLength="33.73" lengthAdjust="spacingAndGlyphs">26146.0</text>
<rect x="1627" y="513" width="2" height="1" fill="#000"/>
<text x="1631.7" y="517" font-size="9.6" fill="#000" textLength="33.73" lengthAdjust="spacingAndGlyphs">25908.0</text>
<rect x="1627" y="546" width="2" height="1" fill="#000"/>
<text x="1631.7" y="550" font-size="9.6" fill="#000" textLength="33.73" lengthAdjust="spacingAndGlyphs">25670.0</text>
<rect x="1627" y="579" width="2" height="1" fill="#000"/>
<text x="1631.7" y="583" font-size="9.6" fill="#000" textLength="33.73" lengthAdjust="spacingAndGlyphs">25432.0</text>
<text x="1629.5" y="595" font-size="9.6" fill="#000" textLength="28.54" lengthAdjust="spacingAndGlyphs">407.58</text>
<text x="1629.5" y="708" font-size="9.6" fill="#000" textLength="18.16" lengthAdjust="spacingAndGlyphs">0.00</text>
<text x="1629.5" y="764" font-size="9.6" fill="#000" textLength="31.64" lengthAdjust="spacingAndGlyphs">-213.22</text>
<rect x="1627" y="586" width="1" height="1" fill="#000"/>
<rect x="1627" y="704" width="1" height="1" fill="#000"/>
<rect x="1627" y="766" width="1" height="1" fill="#000"/>
<rect x="1627" y="771" width="1" height="1" fill="#000"/>
<rect x="1627" y="928" width="1" height="1" fill="#000"/>
<text x="1629.2" y="780" font-size="9.6" fill="#000" textLength="15.57" lengthAdjust="spacingAndGlyphs">100</text>
<text x="1629.2" y="806" font-size="9.6" fill="#000" textLength="10.38" lengthAdjust="spacingAndGlyphs">80</text>
<text x="1629.2" y="853" font-size="9.6" fill="#000" textLength="10.38" lengthAdjust="spacingAndGlyphs">50</text>
<text x="1629.2" y="909" font-size="9.6" fill="#000" textLength="10.38" lengthAdjust="spacingAndGlyphs">15</text>
<text x="1629.2" y="926" font-size="9.6" fill="#000" textLength="5.19" lengthAdjust="spacingAndGlyphs">0</text>
<rect x="1628" y="131" width="41" height="11" fill="#ff0000"/>
<text x="1631.7" y="141" font-size="9.6" fill="#fff" textLength="33.73" lengthAdjust="spacingAndGlyphs">28627.6</text>
<rect x="1621.5" y="135.5" width="4" height="4" fill="#fff" stroke="#ff0000" stroke-width="1"/>
<rect x="-1.5" y="135.5" width="4" height="4" fill="#fff" stroke="#ff0000" stroke-width="1"/>
<rect x="1628" y="151" width="41" height="11" fill="#ff0000"/>
<text x="1631.7" y="161" font-size="9.6" fill="#fff" textLength="33.73" lengthAdjust="spacingAndGlyphs">28483.0</text>
<rect x="1628" y="178" width="41" height="11" fill="#000000"/>
<text x="1631.7" y="187" font-size="9.6" fill="#fff" textLength="33.73" lengthAdjust="spacingAndGlyphs">28299.0</text>
<rect x="1628" y="193" width="41" height="11" fill="#32cd32"/>
<text x="1631.7" y="203" font-size="9.6" fill="#fff" textLength="33.73" lengthAdjust="spacingAndGlyphs">28179.4</text>
<rect x="1621.5" y="197.5" width="4" height="4" fill="#fff" stroke="#32cd32" stroke-width="1"/>
<rect x="-1.5" y="197.5" width="4" height="4" fill="#fff" stroke="#32cd32" stroke-width="1"/>
<rect x="1628" y="218" width="41" height="11" fill="#0000ff"/>
<text x="1631.7" y="228" font-size="9.6" fill="#fff" textLength="33.73" lengthAdjust="spacingAndGlyphs">27998.7</text>
<rect x="1621.5" y="222.5" width="4" height="4" fill="#fff" stroke="#0000ff" stroke-width="1"/>
<rect x="-1.5" y="222.5" width="4" height="4" fill="#fff" stroke="#0000ff" stroke-width="1"/>
<rect x="1628" y="244" width="41" height="11" fill="#0000ff"/>
<text x="1631.7" y="254" font-size="9.6" fill="#fff" textLength="33.73" lengthAdjust="spacingAndGlyphs">27810.8</text>
<rect x="1621.5" y="248.5" width="4" height="4" fill="#fff" stroke="#0000ff" stroke-width="1"/>
<rect x="-1.5" y="248.5" width="4" height="4" fill="#fff" stroke="#0000ff" stroke-width="1"/>
<text x="-3.9" y="942" font-size="9.6" fill="#000" textLength="52.92" lengthAdjust="spacingAndGlyphs">24 Sep 2019</text>
<rect x="62" y="930" width="1" height="3" fill="#000"/>
<text x="60.7" y="942" font-size="9.6" fill="#000" textLength="55.51" lengthAdjust="spacingAndGlyphs">30 Sep 01:15</text>
<rect x="126" y="930" width="1" height="3" fill="#000"/>
<text x="124.7" y="942" font-size="9.6" fill="#000" textLength="48.24" lengthAdjust="spacingAndGlyphs">8 Oct 01:15</text>
<rect x="190" y="930" width="1" height="3" fill="#000"/>
<text x="188.7" y="942" font-size="9.6" fill="#000" textLength="53.42" lengthAdjust="spacingAndGlyphs">14 Oct 01:15</text>
<rect x="254" y="930" width="1" height="3" fill="#000"/>
<text x="252.7" y="942" font-size="9.6" fill="#000" textLength="53.42" lengthAdjust="spacingAndGlyphs">18 Oct 01:15</text>
<rect x="318" y="930" width="1" height="3" fill="#000"/>
<text x="316.7" y="942" font-size="9.6" fill="#000" textLength="53.42" lengthAdjust="spacingAndGlyphs">24 Oct 01:15</text>
<rect x="382" y="930" width="1" height="3" fill="#000"/>
<text x="380.7" y="942" font-size="9.6" fill="#000" textLength="53.42" lengthAdjust="spacingAndGlyphs">30 Oct 01:15</text>
<rect x="446" y="930" width="1" height="3" fill="#000"/>
<text x="444.7" y="942" font-size="9.6" fill="#000" textLength="50.31" lengthAdjust="spacingAndGlyphs">5 Nov 01:15</text>
<rect x="510" y="930" width="1" height="3" fill="#000"/>
<text x="508.7" y="942" font-size="9.6" fill="#000" textLength="55.5" lengthAdjust="spacingAndGlyphs">11 Nov 01:15</text>
<rect x="574" y="930" width="1" height="3" fill="#000"/>
<text x="572.7" y="942" font-size="9.6" fill="#000" textLength="55.5" lengthAdjust="spacingAndGlyphs">15 Nov 01:15</text>
<rect x="638" y="930" width="1" height="3" fill="#000"/>
<text x="636.7" y="942" font-size="9.6" fill="#000" textLength="55.5" lengthAdjust="spacingAndGlyphs">21 Nov 01:15</text>
<rect x="702" y="930" width="1" height="3" fill="#000"/>
<text x="700.7" y="942" font-size="9.6" fill="#000" textLength="55.5" lengthAdjust="spacingAndGlyphs">27 Nov 01:15</text>
<rect x="766" y="930" width="1" height="3" fill="#000"/>
<text x="764.7" y="942" font-size="9.6" fill="#000" textLength="50.31" lengthAdjust="spacingAndGlyphs">3 Dec 01:15</text>
<rect x="830" y="930" width="1" height="3" fill="#000"/>
<text x="828.7" y="942" font-size="9.6" fill="#000" textLength="50.31" lengthAdjust="spacingAndGlyphs">9 Dec 01:15</text>
<rect x="894" y="930" width="1" height="3" fill="#000"/>
<text x="892.7" y="942" font-size="9.6" fill="#000" textLength="55.5" lengthAdjust="spacingAndGlyphs">13 Dec 01:15</text>
<rect x="958" y="930" width="1" height="3" fill="#000"/>
<text x="956.7" y="942" font-size="9.6" fill="#000" textLength="55.5" lengthAdjust="spacingAndGlyphs">19 Dec 01:15</text>
<rect x="1022" y="930" width="1" height="3" fill="#000"/>
<text x="1020.7" y="942" font-size="9.6" fill="#000" textLength="55.5" lengthAdjust="spacingAndGlyphs">27 Dec 05:00</text>
<rect x="1086" y="930" width="1" height="3" fill="#000"/>
<text x="1084.7" y="942" font-size="9.6" fill="#000" textLength="48.76" lengthAdjust="spacingAndGlyphs">6 Jan 01:15</text>
<rect x="1150" y="930" width="1" height="3" fill="#000"/>
<text x="1148.7" y="942" font-size="9.6" fill="#000" textLength="53.95" lengthAdjust="spacingAndGlyphs">10 Jan 01:15</text>
<rect x="1214" y="930" width="1" height="3" fill="#000"/>
<text x="1212.7" y="942" font-size="9.6" fill="#000" textLength="53.95" lengthAdjust="spacingAndGlyphs">16 Jan 01:15</text>
<rect x="1278" y="930" width="1" height="3" fill="#000"/>
<text x="1276.7" y="942" font-size="9.6" fill="#000" textLength="53.95" lengthAdjust="spacingAndGlyphs">22 Jan 01:15</text>
<text x="1.6" y="597" font-size="9.6" fill="#000" textLength="116.69" lengthAdjust="spacingAndGlyphs">MACD(12,26,9) 7.35 151.01</text>
<text x="1.4" y="782" font-size="9.6" fill="#000" textLength="68.46" lengthAdjust="spacingAndGlyphs">RSI(14) 46.0394</text>
</g>
<g>
<g shape-rendering="crispEdges">
<rect x="0" y="0" width="1671" height="24" fill="#f0f0f0"/>
<rect x="0" y="24" width="1671" height="1" fill="#e4e4e4"/>
<rect x="0" y="25" width="1671" height="1" fill="#8c8c8c"/>
<rect x="0" y="26" width="1671" height="1" fill="#6a6a6a"/>
<rect x="223" y="0" width="1" height="25" fill="#a0a0a0"/>
<rect x="224" y="0" width="1" height="25" fill="#fff"/>
<rect x="591" y="0" width="1" height="25" fill="#a0a0a0"/>
<rect x="592" y="0" width="1" height="25" fill="#fff"/>
<rect x="897" y="0" width="1" height="25" fill="#a0a0a0"/>
<rect x="898" y="0" width="1" height="25" fill="#fff"/>
<rect x="1158" y="0" width="1" height="25" fill="#a0a0a0"/>
<rect x="1159" y="0" width="1" height="25" fill="#fff"/>
<rect x="227" y="3" width="3" height="1" fill="#a8a8a8"/>
<rect x="227" y="4" width="3" height="1" fill="#f8f8f8"/>
<rect x="227" y="5" width="3" height="1" fill="#a8a8a8"/>
<rect x="227" y="6" width="3" height="1" fill="#f8f8f8"/>
<rect x="227" y="7" width="3" height="1" fill="#a8a8a8"/>
<rect x="227" y="8" width="3" height="1" fill="#f8f8f8"/>
<rect x="227" y="9" width="3" height="1" fill="#a8a8a8"/>
<rect x="227" y="10" width="3" height="1" fill="#f8f8f8"/>
<rect x="227" y="11" width="3" height="1" fill="#a8a8a8"/>
<rect x="227" y="12" width="3" height="1" fill="#f8f8f8"/>
<rect x="227" y="13" width="3" height="1" fill="#a8a8a8"/>
<rect x="227" y="14" width="3" height="1" fill="#f8f8f8"/>
<rect x="227" y="15" width="3" height="1" fill="#a8a8a8"/>
<rect x="227" y="16" width="3" height="1" fill="#f8f8f8"/>
<rect x="227" y="17" width="3" height="1" fill="#a8a8a8"/>
<rect x="227" y="18" width="3" height="1" fill="#f8f8f8"/>
<rect x="227" y="19" width="3" height="1" fill="#a8a8a8"/>
<rect x="227" y="20" width="3" height="1" fill="#f8f8f8"/>
<rect x="227" y="21" width="3" height="1" fill="#a8a8a8"/>
<rect x="227" y="22" width="3" height="1" fill="#f8f8f8"/>
<rect x="595" y="3" width="3" height="1" fill="#a8a8a8"/>
<rect x="595" y="4" width="3" height="1" fill="#f8f8f8"/>
<rect x="595" y="5" width="3" height="1" fill="#a8a8a8"/>
<rect x="595" y="6" width="3" height="1" fill="#f8f8f8"/>
<rect x="595" y="7" width="3" height="1" fill="#a8a8a8"/>
<rect x="595" y="8" width="3" height="1" fill="#f8f8f8"/>
<rect x="595" y="9" width="3" height="1" fill="#a8a8a8"/>
<rect x="595" y="10" width="3" height="1" fill="#f8f8f8"/>
<rect x="595" y="11" width="3" height="1" fill="#a8a8a8"/>
<rect x="595" y="12" width="3" height="1" fill="#f8f8f8"/>
<rect x="595" y="13" width="3" height="1" fill="#a8a8a8"/>
<rect x="595" y="14" width="3" height="1" fill="#f8f8f8"/>
<rect x="595" y="15" width="3" height="1" fill="#a8a8a8"/>
<rect x="595" y="16" width="3" height="1" fill="#f8f8f8"/>
<rect x="595" y="17" width="3" height="1" fill="#a8a8a8"/>
<rect x="595" y="18" width="3" height="1" fill="#f8f8f8"/>
<rect x="595" y="19" width="3" height="1" fill="#a8a8a8"/>
<rect x="595" y="20" width="3" height="1" fill="#f8f8f8"/>
<rect x="595" y="21" width="3" height="1" fill="#a8a8a8"/>
<rect x="595" y="22" width="3" height="1" fill="#f8f8f8"/>
<rect x="901" y="3" width="3" height="1" fill="#a8a8a8"/>
<rect x="901" y="4" width="3" height="1" fill="#f8f8f8"/>
<rect x="901" y="5" width="3" height="1" fill="#a8a8a8"/>
<rect x="901" y="6" width="3" height="1" fill="#f8f8f8"/>
<rect x="901" y="7" width="3" height="1" fill="#a8a8a8"/>
<rect x="901" y="8" width="3" height="1" fill="#f8f8f8"/>
<rect x="901" y="9" width="3" height="1" fill="#a8a8a8"/>
<rect x="901" y="10" width="3" height="1" fill="#f8f8f8"/>
<rect x="901" y="11" width="3" height="1" fill="#a8a8a8"/>
<rect x="901" y="12" width="3" height="1" fill="#f8f8f8"/>
<rect x="901" y="13" width="3" height="1" fill="#a8a8a8"/>
<rect x="901" y="14" width="3" height="1" fill="#f8f8f8"/>
<rect x="901" y="15" width="3" height="1" fill="#a8a8a8"/>
<rect x="901" y="16" width="3" height="1" fill="#f8f8f8"/>
<rect x="901" y="17" width="3" height="1" fill="#a8a8a8"/>
<rect x="901" y="18" width="3" height="1" fill="#f8f8f8"/>
<rect x="901" y="19" width="3" height="1" fill="#a8a8a8"/>
<rect x="901" y="20" width="3" height="1" fill="#f8f8f8"/>
<rect x="901" y="21" width="3" height="1" fill="#a8a8a8"/>
<rect x="901" y="22" width="3" height="1" fill="#f8f8f8"/>
<rect x="318" y="2" width="1" height="21" fill="#a0a0a0"/>
<rect x="408" y="2" width="1" height="21" fill="#a0a0a0"/>
<rect x="470" y="2" width="1" height="21" fill="#a0a0a0"/>
<rect x="658" y="2" width="1" height="21" fill="#a0a0a0"/>
<rect x="261" y="1" width="26" height="23" fill="#f8f8f8"/>
<rect x="261" y="1" width="25" height="1" fill="#a0a0a0"/><rect x="261" y="1" width="1" height="22" fill="#a0a0a0"/>
<rect x="261" y="23" width="26" height="1" fill="#fff"/><rect x="286" y="1" width="1" height="23" fill="#fff"/>
<rect x="413" y="1" width="26" height="23" fill="#f8f8f8"/>
<rect x="413" y="1" width="25" height="1" fill="#a0a0a0"/><rect x="413" y="1" width="1" height="22" fill="#a0a0a0"/>
<rect x="413" y="23" width="26" height="1" fill="#fff"/><rect x="438" y="1" width="1" height="23" fill="#fff"/>
<rect x="441" y="1" width="26" height="23" fill="#f8f8f8"/>
<rect x="441" y="1" width="25" height="1" fill="#a0a0a0"/><rect x="441" y="1" width="1" height="22" fill="#a0a0a0"/>
<rect x="441" y="23" width="26" height="1" fill="#fff"/><rect x="466" y="1" width="1" height="23" fill="#fff"/>
<rect x="601" y="1" width="26" height="23" fill="#f8f8f8"/>
<rect x="601" y="1" width="25" height="1" fill="#a0a0a0"/><rect x="601" y="1" width="1" height="22" fill="#a0a0a0"/>
<rect x="601" y="23" width="26" height="1" fill="#fff"/><rect x="626" y="1" width="1" height="23" fill="#fff"/>
<rect x="1047" y="1" width="26" height="23" fill="#f8f8f8"/>
<rect x="1047" y="1" width="25" height="1" fill="#a0a0a0"/><rect x="1047" y="1" width="1" height="22" fill="#a0a0a0"/>
<rect x="1047" y="23" width="26" height="1" fill="#fff"/><rect x="1072" y="1" width="1" height="23" fill="#fff"/>
</g>
<path d="M502 12h5v1h-1v1h-1v1h-1v-1h-1v-1h-1z" fill="#000" shape-rendering="crispEdges"/>
<path d="M541 12h5v1h-1v1h-1v1h-1v-1h-1v-1h-1z" fill="#000" shape-rendering="crispEdges"/>
<path d="M580 12h5v1h-1v1h-1v1h-1v-1h-1v-1h-1z" fill="#000" shape-rendering="crispEdges"/>
<text x="811" y="19" font-size="12.5" fill="#555" font-weight="bold">A</text>
<text x="839.5" y="18" font-size="11" fill="#555" font-weight="bold">T</text>
<path d="M886 12h5v1h-1v1h-1v1h-1v-1h-1v-1h-1z" fill="#000" shape-rendering="crispEdges"/>
<text x="919" y="16.8" font-size="9.5" fill="#404040" text-anchor="middle">M1</text>
<text x="947" y="16.8" font-size="9.5" fill="#404040" text-anchor="middle">M5</text>
<text x="975" y="16.8" font-size="9.5" fill="#404040" text-anchor="middle">M15</text>
<text x="1003" y="16.8" font-size="9.5" fill="#404040" text-anchor="middle">M30</text>
<text x="1031" y="16.8" font-size="9.5" fill="#404040" text-anchor="middle">H1</text>
<text x="1059" y="16.8" font-size="9.5" fill="#404040" text-anchor="middle">H4</text>
<text x="1087" y="16.8" font-size="9.5" fill="#404040" text-anchor="middle">D1</text>
<text x="1116" y="16.8" font-size="9.5" fill="#404040" text-anchor="middle">W1</text>
<text x="1143" y="16.8" font-size="9.5" fill="#404040" text-anchor="middle">MN</text>
<g><path d="M-2.5,5.5 H5.5 L8.5,8.5 V18.5 H-2.5Z" fill="#fafafa" stroke="#9a9a9a"/><path d="M5.5,5.5 V8.5 H8.5" fill="#e0e0e0" stroke="#9a9a9a" stroke-width="0.8"/><rect x="0" y="8" width="4" height="1" fill="#aaa"/><rect x="0" y="10.5" width="6" height="1" fill="#aaa"/><rect x="0" y="13" width="4" height="1" fill="#aaa"/><path d="M5.2,11.4h3.6v3.8h3.8v3.6h-3.8v3.8h-3.6v-3.8h-3.8v-3.6h3.8z" fill="#2ad43a" stroke="#0d8a1a" stroke-width="0.8" stroke-linejoin="round"/><path d="M6.0,12.200000000000001h2.0v3.8" fill="none" stroke="#9af0a0" stroke-width="0.7"/></g>
<defs><linearGradient id="gold" x1="0" y1="0" x2="1" y2="1"><stop offset="0" stop-color="#ffe05a"/><stop offset="0.5" stop-color="#f0b818"/><stop offset="1" stop-color="#c88a08"/></linearGradient></defs><g><path d="M64.2,14.8 L70.4,6.2 L79.8,13 L72.4,19.6 Z" fill="url(#gold)" stroke="#b07c08" stroke-width="0.9" stroke-linejoin="round"/><path d="M72.4,19.6 L79.8,13 L80,14.6 L72.3,21 L64.2,15.6 L64.2,14.8 Z" fill="#a87410" stroke="#8a5c08" stroke-width="0.5"/><path d="M72.6,20.2 L79.6,14" stroke="#f4dc90" stroke-width="0.6"/></g>
<defs><linearGradient id="cl" x1="0" y1="0" x2="0" y2="1"><stop offset="0" stop-color="#ffffff"/><stop offset="1" stop-color="#c4d4ee"/></linearGradient></defs><g transform="translate(92,5)"><path d="M2.5,1.5 L5,0.3 H12.3 V8.5 H2.5Z" fill="#1e8ff8" stroke="#0a62d0" stroke-width="0.8"/><path d="M2.8,1.6 L5,0.6 V8.5 H2.8Z" fill="#59c8ff"/><rect x="6" y="2.3" width="5" height="1.3" fill="#bfe4ff"/><rect x="6" y="5" width="5" height="1.3" fill="#bfe4ff"/><path d="M2.6,15.6 a3,3 0 0 1 0.4,-6 a4,4 0 0 1 7.3,-0.8 a3.3,3.3 0 0 1 3.2,6.8 z" fill="url(#cl)" stroke="#5f86c8" stroke-width="1"/></g>
<g transform="translate(128.1,12.7)" fill="none"><circle r="7.6" stroke="#a9c6ee" stroke-width="1.5"/><circle r="4.8" stroke="#6a9de6" stroke-width="1.5"/><path d="M0,0 L0,8.2 A8.2,8.2 0 0 0 7.8,-2.5 Z" fill="#8fd08f" fill-opacity="0.85" stroke="none"/><path d="M0,0 L0,8.2 A8.2,8.2 0 0 0 7.8,-2.5" stroke="#5cb85c" stroke-width="0.8" fill="none" opacity="0.7"/><path d="M0,0 V8" stroke="#18a018" stroke-width="1.6"/><circle r="2" fill="#2868d8"/></g>
<g><path d="M148.6,11.5 L161.4,11.5 L157,20 L153.6,19.2 Z" fill="#f6d04e" stroke="#c09a20" stroke-width="0.7"/><path d="M149.5,12 L154,18.8 L155,13 Z" fill="#fff2a8"/><ellipse cx="155" cy="10.2" rx="7.8" ry="2.7" fill="#4f9fdc" stroke="#2f78b8" stroke-width="0.7"/><path d="M150.8,9.6 C151,4.2 159,4.2 159.2,9.6 C157,11 153,11 150.8,9.6Z" fill="#7cc4ee" stroke="#3a86c4" stroke-width="0.6"/><circle cx="159.6" cy="16.8" r="4.2" fill="#e42a1a" stroke="#b01808" stroke-width="0.6"/><rect x="158" y="15.2" width="3.2" height="3.2" fill="#fff"/></g>
<g shape-rendering="crispEdges" fill="#555"><rect x="241" y="7" width="1" height="14"/><rect x="239" y="18" width="14" height="1"/><rect x="240" y="8" width="3" height="1"/><rect x="251" y="17" width="1" height="3"/></g><g shape-rendering="crispEdges" fill="#0a8a0a"><rect x="247" y="8" width="1.4" height="9"/><rect x="247" y="9" width="3" height="1.3"/><rect x="245" y="15" width="3" height="1.3"/></g>
<g shape-rendering="crispEdges" fill="#555"><rect x="269" y="7" width="1" height="14"/><rect x="267" y="18" width="14" height="1"/><rect x="268" y="8" width="3" height="1"/><rect x="279" y="17" width="1" height="3"/></g><rect x="273.5" y="7.5" width="4" height="7" fill="#5ee05e" stroke="#088a08"/><rect x="275" y="5" width="1" height="2.5" fill="#088a08"/><rect x="275" y="15" width="1" height="2" fill="#088a08"/>
<g shape-rendering="crispEdges" fill="#555"><rect x="297" y="7" width="1" height="14"/><rect x="295" y="18" width="14" height="1"/><rect x="296" y="8" width="3" height="1"/><rect x="307" y="17" width="1" height="3"/></g><path d="M296.3,15.6 C298.6,13.6 300,10.2 302.2,10.2 C304.4,10.2 305.6,13.6 307.8,14.3" stroke="#1a8a1a" stroke-width="1.2" fill="none"/>
<g><path d="M336.8,14.8 L342,19.6" stroke="#a87c10" stroke-width="3.3" stroke-linecap="butt"/><path d="M336.8,14.8 L341.7,19.3" stroke="#f0d850" stroke-width="1.9" stroke-linecap="butt"/><circle cx="333" cy="10.9" r="5.2" fill="#dcf0fe" stroke="#3a80c8" stroke-width="1.4"/><path d="M330.3,11 H335.7" stroke="#3f8cc4" stroke-width="1.8"/><path d="M333,8.3 V13.7" stroke="#3f8cc4" stroke-width="1.8"/></g>
<g><path d="M364.8,14.8 L370,19.6" stroke="#a87c10" stroke-width="3.3" stroke-linecap="butt"/><path d="M364.8,14.8 L369.7,19.3" stroke="#f0d850" stroke-width="1.9" stroke-linecap="butt"/><circle cx="361" cy="10.9" r="5.2" fill="#dcf0fe" stroke="#3a80c8" stroke-width="1.4"/><path d="M358.3,11 H363.7" stroke="#3f8cc4" stroke-width="1.8"/></g>
<g><rect x="383" y="5" width="8" height="8" rx="0.8" fill="#2e9e14"/><rect x="384.2" y="8.2" width="5.8" height="3.8" rx="0.6" fill="#fff"/><rect x="385.4" y="9.2" width="3.4" height="0.9" fill="#9ad880"/><rect x="384.2" y="6.2" width="1" height="1" fill="#fff" opacity="0.8"/><rect x="391" y="5" width="8" height="8" rx="0.8" fill="#1846d4"/><rect x="392.2" y="8.2" width="5.8" height="3.8" rx="0.6" fill="#fff"/><rect x="393.4" y="9.2" width="3.4" height="0.9" fill="#8aa8f0"/><rect x="392.2" y="6.2" width="1" height="1" fill="#fff" opacity="0.8"/><rect x="383" y="13" width="8" height="8" rx="0.8" fill="#1846d4"/><rect x="384.2" y="16.2" width="5.8" height="3.8" rx="0.6" fill="#fff"/><rect x="385.4" y="17.2" width="3.4" height="0.9" fill="#8aa8f0"/><rect x="384.2" y="14.2" width="1" height="1" fill="#fff" opacity="0.8"/><rect x="391" y="13" width="8" height="8" rx="0.8" fill="#2e9e14"/><rect x="392.2" y="16.2" width="5.8" height="3.8" rx="0.6" fill="#fff"/><rect x="393.4" y="17.2" width="3.4" height="0.9" fill="#9ad880"/><rect x="392.2" y="14.2" width="1" height="1" fill="#fff" opacity="0.8"/></g>
<g shape-rendering="crispEdges" fill="#555"><rect x="421" y="7" width="1" height="14"/><rect x="419" y="18" width="14" height="1"/><rect x="420" y="8" width="3" height="1"/><rect x="431" y="17" width="1" height="3"/></g><polygon points="426.2,9.3 430.2,12.6 426.2,15.9" fill="#58e058" stroke="#0a8a0a" stroke-width="0.9"/>
<g shape-rendering="crispEdges" fill="#555"><rect x="449" y="7" width="1" height="14"/><rect x="447" y="18" width="14" height="1"/><rect x="448" y="8" width="3" height="1"/><rect x="459" y="17" width="1" height="3"/></g><rect x="455" y="7" width="1" height="10" fill="#1f6fb0" shape-rendering="crispEdges"/><path d="M461,12.5 H457.5" stroke="#e05010" stroke-width="1.2"/><path d="M456.4,12.5 L459.2,10.3 L459.2,14.7Z" fill="#e05010"/>
<g><path d="M480.5,5.5 H488.5 L491.5,8.5 V18.5 H480.5Z" fill="#fcfcfc" stroke="#9a9a9a"/><path d="M488.5,5.5 V8.5 H491.5" fill="#e4e4e4" stroke="#9a9a9a" stroke-width="0.8"/><path d="M485.5,8 Q483.6,7.6 483.8,10 L483.4,15.5 M482.5,11 H485.5" stroke="#5a5a30" fill="none" stroke-width="1"/><path d="M488.3,11.100000000000001h3.6v3.9000000000000004h3.9000000000000004v3.6h-3.9000000000000004v3.9000000000000004h-3.6v-3.9000000000000004h-3.9000000000000004v-3.6h3.9000000000000004z" fill="#2ad43a" stroke="#0d8a1a" stroke-width="0.8" stroke-linejoin="round"/><path d="M489.1,11.900000000000002h2.0v3.9000000000000004" fill="none" stroke="#9af0a0" stroke-width="0.7"/></g>
<defs><linearGradient id="clk" x1="0" y1="0" x2="1" y2="1"><stop offset="0" stop-color="#58b8ff"/><stop offset="0.5" stop-color="#1e78e0"/><stop offset="1" stop-color="#0a48a8"/></linearGradient></defs><g transform="translate(526,12.8)"><circle r="7.6" fill="url(#clk)" stroke="#0c4aa0" stroke-width="0.6"/><circle r="5.2" fill="#fbfdff" stroke="#9cc4ee" stroke-width="0.5"/><path d="M0,-4.2v0.9M0,4.2v-0.9M-4.2,0h0.9M4.2,0h-0.9" stroke="#789" stroke-width="0.7"/><path d="M-0.3,-3.2 V0.2 H2.6" stroke="#222" stroke-width="1.2" fill="none"/></g>
<g transform="translate(557,6)"><rect x="0.5" y="0.5" width="15" height="13" fill="#fff" stroke="#3a74cc"/><rect x="1" y="1" width="14" height="2" fill="#5c9cec"/><rect x="1" y="7" width="14" height="1" fill="#3a74cc"/><path d="M2.5,5.8 L5,4.8 L7.5,5.2 L9.5,4.2 L11.5,4.8 L13.5,4" stroke="#a82010" fill="none" stroke-width="1.1"/><path d="M2.5,11.5 L5,10.4 L7.5,11.3 L10.5,9.3 L13,11.3" stroke="#1a8a1a" fill="none" stroke-width="1.1"/></g>
<path d="M609,6 V18.5 L612,15.5 L614.5,20.5 L616.5,19.5 L614,14.8 L618,14.5 Z" fill="#444"/>
<path d="M641.5,6 V12 M641.5,15 V21 M634,13.5 H640 M643,13.5 H649" stroke="#444" stroke-width="1.2" shape-rendering="crispEdges"/>
<rect x="675" y="7" width="1" height="13" fill="#444" shape-rendering="crispEdges"/><rect x="698" y="13" width="12" height="1" fill="#444" shape-rendering="crispEdges"/><path d="M725.5,19.7 L738.3,7.8" stroke="#444" stroke-width="1.1"/>
<g stroke="#555" stroke-width="1" fill="none"><path d="M752,14.5 L760,7 M757,19.7 L766,11.3" stroke-dasharray="1 0.6"/><path d="M754,17 L756,11 L758,15.5 L760.5,9 L762.5,13 L763.5,5.5" stroke="#444" stroke-width="1.2"/></g>
<path d="M763 17h4v1h-3v1h2v1h-2v1h3v1h-4z" fill="#333" shape-rendering="crispEdges"/>
<path d="M781 6h1v1h-1zM783 6h1v1h-1zM785 6h1v1h-1zM787 6h1v1h-1zM789 6h1v1h-1zM791 6h1v1h-1zM793 6h1v1h-1zM781 9h1v1h-1zM783 9h1v1h-1zM785 9h1v1h-1zM787 9h1v1h-1zM789 9h1v1h-1zM791 9h1v1h-1zM793 9h1v1h-1zM781 13h1v1h-1zM783 13h1v1h-1zM785 13h1v1h-1zM787 13h1v1h-1zM789 13h1v1h-1zM791 13h1v1h-1zM793 13h1v1h-1zM781 17h1v1h-1zM783 17h1v1h-1zM785 17h1v1h-1zM787 17h1v1h-1zM789 17h1v1h-1z" fill="#555" shape-rendering="crispEdges"/>
<path d="M791 17h4v1h-3v1h2v1h-2v2h-1z" fill="#333" shape-rendering="crispEdges"/>
<rect x="837.5" y="7.5" width="12" height="12" fill="none" stroke="#666" stroke-dasharray="1 1"/>
<g fill="#555"><path d="M868.4,6.9 L872.2,11.4 L864.8,11.4Z"/><path d="M872,16 L879,16 L875.5,20Z"/><path d="M867,14.2 L869.5,16.6 L874,11.2" stroke="#555" fill="none" stroke-width="1.3"/></g>
<g><path d="M1625.7,13.3 L1621.2,17.8" stroke="#2255d8" stroke-width="2.7" stroke-linecap="butt"/><circle cx="1628.7" cy="10.4" r="4" fill="#f6f8ff" stroke="#2255d8" stroke-width="1.4"/></g>
<defs><linearGradient id="bub" x1="0" y1="0" x2="0" y2="1"><stop offset="0" stop-color="#ffffff"/><stop offset="1" stop-color="#d8d8e4"/></linearGradient></defs><g fill="url(#bub)" stroke="#909090" stroke-width="0.9"><path d="M1662.5,14.5 L1664.3,17 L1664.8,13.8Z" fill="#888"/><ellipse cx="1661.2" cy="10" rx="6.4" ry="4.7"/><path d="M1649.6,16.3 L1649.6,19.7 L1652.3,17.6Z" fill="#888"/><ellipse cx="1652.3" cy="14" rx="5" ry="3.9"/></g>
<text class="cjk" x="15.3" y="16.5" font-size="12.45" fill="#000" textLength="37.4" lengthAdjust="spacing">新订单</text>
<text class="cjk" x="167" y="16.1" font-size="12.3" fill="#000" textLength="49.3" lengthAdjust="spacing">自动交易</text>
<defs><linearGradient id="rg" gradientUnits="userSpaceOnUse" x1="0" y1="49" x2="0" y2="113"><stop offset="0" stop-color="#fb5252"/><stop offset="0.36" stop-color="#e23434"/><stop offset="0.62" stop-color="#cf1f1f"/><stop offset="1" stop-color="#b00000"/></linearGradient><linearGradient id="bg" x1="0" y1="0" x2="0" y2="1"><stop offset="0" stop-color="#f2f2f2"/><stop offset="1" stop-color="#e2e2e2"/></linearGradient></defs>
<g shape-rendering="crispEdges">
<path d="M1,49 H53 V73 H110 V113 H1 Z" fill="url(#rg)"/>
<path d="M168,49 H220 V113 H112 V73 H168 Z" fill="url(#rg)"/>
<path d="M1.5,113 V49.5 H52.5 V73.5 H109.5 V113" fill="none" stroke="#c21a1a" stroke-width="1"/>
<path d="M112.5,113 V73.5 H168.5 V49.5 H219.5 V113" fill="none" stroke="#c21a1a" stroke-width="1"/>
<rect x="5" y="72" width="44" height="1" fill="#960808"/><rect x="5" y="73" width="44" height="1" fill="#f07a7a"/>
<rect x="172" y="72" width="44" height="1" fill="#960808"/><rect x="172" y="73" width="44" height="1" fill="#f07a7a"/>
<rect x="55" y="49" width="111" height="22" fill="#adadad"/><rect x="56" y="50" width="109" height="20" fill="#fff"/>
<rect x="56" y="50" width="20" height="20" fill="url(#bg)"/><rect x="76" y="50" width="1" height="20" fill="#adadad"/>
<rect x="145" y="50" width="20" height="20" fill="url(#bg)"/><rect x="144" y="50" width="1" height="20" fill="#adadad"/>
<path d="M63 58h6v1h-1v1h-1v1h-2v-1h-1v-1h-1z" fill="#000"/><path d="M152 61h6v-1h-1v-1h-1v-1h-2v1h-1v1h-1z" fill="#000"/>
</g>
<text x="13.3" y="65" font-size="11.5" fill="#fff" textLength="25.5" lengthAdjust="spacingAndGlyphs">SELL</text>
<text x="181.7" y="65" font-size="11.5" fill="#fff" textLength="22.8" lengthAdjust="spacingAndGlyphs">BUY</text>
<text x="141.2" y="64" font-size="12" fill="#000" text-anchor="end" textLength="23.5" lengthAdjust="spacingAndGlyphs">1.00</text>
<text x="17" y="104" font-size="12" fill="#fff" font-weight="bold" textLength="35" lengthAdjust="spacingAndGlyphs">28297</text>
<text x="53.2" y="104.5" font-size="33.5" fill="#fff" textLength="26.5" lengthAdjust="spacingAndGlyphs">.5</text>
<text x="127" y="104" font-size="12" fill="#fff" font-weight="bold" textLength="35" lengthAdjust="spacingAndGlyphs">28313</text>
<text x="164.4" y="104.5" font-size="33.5" fill="#fff" textLength="26.5" lengthAdjust="spacingAndGlyphs">.5</text>
</g>
</svg>
</body></html>
